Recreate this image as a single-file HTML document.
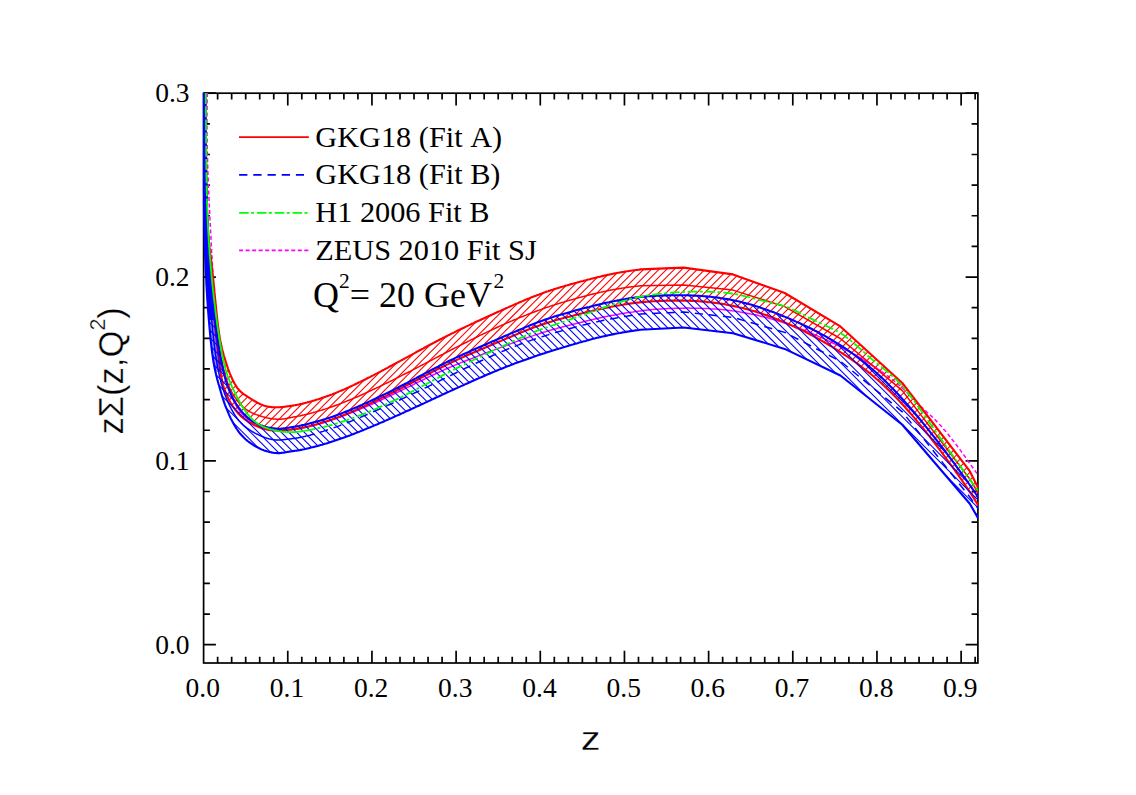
<!DOCTYPE html>
<html><head><meta charset="utf-8"><title>zΣ(z,Q²)</title>
<style>html,body{margin:0;padding:0;background:#fff;}body{width:1136px;height:795px;overflow:hidden;font-family:"Liberation Serif",serif;}svg{display:block;}text{font-kerning:none;white-space:pre;}</style></head>
<body>
<svg width="1136" height="795" viewBox="0 0 1136 795">
<rect width="1136" height="795" fill="#fff"/>
<defs>
<clipPath id="fr"><rect x="202.4" y="92.2" width="775.6" height="571.8"/></clipPath>
<clipPath id="cr"><path d="M205.4,93.0 L205.4,95.2 L205.5,97.4 L205.5,99.6 L205.6,101.8 L205.6,104.1 L205.6,106.3 L205.6,108.6 L205.7,110.8 L205.7,113.1 L205.7,115.3 L205.8,117.6 L205.8,119.9 L205.8,122.1 L205.8,124.4 L205.9,126.7 L205.9,129.0 L205.9,131.2 L205.9,133.5 L205.9,135.8 L206.0,138.1 L206.0,140.4 L206.0,142.6 L206.0,144.9 L206.0,147.2 L206.1,149.4 L206.1,151.7 L206.1,153.9 L206.1,156.2 L206.1,158.4 L206.2,160.7 L206.2,162.9 L206.2,165.1 L206.2,167.3 L206.3,169.5 L206.3,171.7 L206.3,173.9 L206.3,176.0 L206.4,178.2 L206.4,180.3 L206.4,182.4 L206.5,184.6 L206.5,186.7 L206.5,188.7 L206.6,190.8 L206.6,192.9 L206.7,194.9 L206.7,196.9 L206.8,198.9 L206.8,200.9 L206.9,202.9 L206.9,204.8 L207.0,206.7 L207.0,208.6 L207.1,210.5 L207.2,212.4 L207.2,214.2 L207.3,216.0 L207.4,217.8 L207.5,219.6 L207.5,221.3 L207.6,223.0 L207.7,224.7 L207.8,226.4 L207.9,228.0 L208.0,229.6 L208.1,231.2 L208.2,232.7 L208.3,234.2 L208.4,235.7 L208.5,237.2 L208.7,238.6 L208.8,240.0 L208.9,241.3 L209.0,242.7 L209.2,244.0 L209.3,245.3 L209.5,246.6 L209.6,247.9 L209.8,249.1 L209.9,250.4 L210.1,251.7 L210.2,252.9 L210.4,254.2 L210.5,255.5 L210.7,256.8 L210.9,258.1 L211.0,259.5 L211.2,260.8 L211.4,262.2 L211.6,263.6 L211.7,265.1 L211.9,266.6 L212.1,268.1 L212.3,269.6 L212.4,271.3 L212.6,272.9 L212.8,274.6 L213.0,276.4 L213.2,278.1 L213.3,280.0 L213.5,281.8 L213.7,283.7 L213.9,285.6 L214.1,287.5 L214.3,289.4 L214.4,291.4 L214.6,293.3 L214.8,295.3 L215.0,297.3 L215.2,299.3 L215.4,301.2 L215.6,303.2 L215.8,305.2 L216.0,307.2 L216.2,309.1 L216.4,311.1 L216.6,313.0 L216.8,314.9 L217.0,316.8 L217.2,318.6 L217.4,320.5 L217.6,322.3 L217.8,324.0 L218.0,325.8 L218.3,327.4 L218.5,329.1 L218.7,330.7 L218.9,332.2 L219.1,333.7 L219.4,335.2 L219.6,336.6 L219.8,338.0 L220.1,339.4 L220.3,340.7 L220.6,342.0 L220.8,343.3 L221.1,344.5 L221.4,345.8 L221.7,347.0 L221.9,348.2 L222.2,349.4 L222.5,350.6 L222.9,351.8 L223.2,353.0 L223.5,354.3 L223.8,355.5 L224.2,356.7 L224.6,357.9 L224.9,359.2 L225.3,360.4 L225.7,361.7 L226.2,363.0 L226.6,364.3 L227.0,365.7 L227.5,367.0 L227.9,368.3 L228.4,369.7 L228.9,371.0 L229.4,372.3 L229.9,373.6 L230.5,374.9 L231.0,376.2 L231.6,377.5 L232.1,378.7 L232.7,380.0 L233.3,381.2 L233.9,382.3 L234.5,383.5 L235.2,384.5 L235.8,385.6 L236.5,386.6 L237.1,387.6 L237.8,388.5 L238.5,389.3 L239.2,390.1 L239.9,390.9 L240.7,391.6 L241.4,392.3 L242.2,392.9 L242.9,393.5 L243.7,394.1 L244.4,394.7 L245.2,395.2 L246.0,395.7 L246.8,396.2 L247.5,396.7 L248.3,397.2 L249.1,397.7 L249.9,398.1 L250.6,398.6 L251.4,399.1 L252.2,399.6 L253.0,400.1 L253.7,400.5 L254.5,401.0 L255.3,401.5 L256.1,401.9 L256.8,402.4 L257.6,402.8 L258.4,403.2 L259.3,403.7 L260.1,404.0 L260.9,404.4 L261.8,404.8 L262.6,405.1 L263.5,405.4 L264.4,405.7 L265.3,405.9 L266.2,406.2 L267.1,406.4 L268.1,406.6 L269.0,406.7 L269.9,406.9 L270.9,407.0 L271.8,407.1 L272.8,407.2 L273.7,407.2 L274.7,407.3 L275.6,407.3 L276.5,407.3 L277.5,407.3 L278.4,407.3 L279.3,407.2 L280.2,407.2 L281.1,407.1 L281.9,407.1 L282.8,407.0 L283.7,406.9 L284.5,406.8 L285.3,406.7 L286.1,406.5 L286.9,406.4 L287.7,406.3 L288.5,406.2 L289.2,406.1 L290.0,406.0 L290.7,405.9 L291.4,405.8 L292.1,405.7 L292.8,405.6 L293.5,405.5 L294.2,405.3 L294.9,405.2 L295.6,405.1 L296.4,405.0 L297.2,404.8 L298.0,404.7 L298.8,404.5 L299.7,404.3 L300.6,404.1 L301.6,403.9 L302.6,403.6 L303.7,403.4 L304.8,403.1 L305.9,402.8 L307.1,402.5 L308.3,402.1 L309.6,401.8 L310.8,401.4 L312.1,401.1 L313.5,400.7 L314.8,400.3 L316.2,399.8 L317.6,399.4 L319.0,399.0 L320.4,398.5 L321.8,398.0 L323.3,397.5 L324.7,397.0 L326.2,396.5 L327.6,396.0 L329.1,395.5 L330.6,394.9 L332.0,394.4 L333.5,393.8 L335.0,393.2 L336.4,392.6 L337.9,392.0 L339.3,391.4 L340.8,390.8 L342.2,390.2 L343.7,389.6 L345.2,388.9 L346.6,388.3 L348.1,387.6 L349.5,387.0 L351.0,386.3 L352.4,385.6 L353.9,384.9 L355.3,384.2 L356.8,383.5 L358.2,382.8 L359.7,382.1 L361.1,381.4 L362.6,380.7 L364.0,380.0 L365.5,379.3 L366.9,378.5 L368.3,377.8 L369.8,377.1 L371.2,376.3 L372.7,375.6 L374.1,374.9 L375.5,374.1 L377.0,373.4 L378.4,372.6 L379.8,371.9 L381.3,371.1 L382.7,370.3 L384.1,369.6 L385.6,368.8 L387.0,368.1 L388.4,367.3 L389.8,366.5 L391.3,365.8 L392.7,365.0 L394.1,364.2 L395.5,363.5 L396.9,362.7 L398.4,361.9 L399.8,361.2 L401.2,360.4 L402.6,359.7 L404.0,358.9 L405.4,358.1 L406.8,357.4 L408.2,356.6 L409.6,355.8 L411.0,355.1 L412.4,354.3 L413.7,353.6 L415.1,352.8 L416.5,352.0 L417.9,351.3 L419.3,350.5 L420.7,349.8 L422.1,349.0 L423.4,348.3 L424.8,347.5 L426.2,346.8 L427.6,346.0 L429.0,345.3 L430.5,344.5 L431.9,343.8 L433.3,343.0 L434.7,342.3 L436.2,341.5 L437.6,340.8 L439.0,340.0 L440.5,339.2 L442.0,338.5 L443.5,337.7 L445.0,337.0 L446.5,336.2 L448.0,335.4 L449.5,334.7 L451.0,333.9 L452.6,333.1 L454.2,332.4 L455.7,331.6 L457.3,330.8 L458.9,330.0 L460.5,329.3 L462.1,328.5 L463.8,327.7 L465.4,326.9 L467.0,326.1 L468.7,325.4 L470.3,324.6 L471.9,323.8 L473.6,323.1 L475.2,322.3 L476.9,321.5 L478.6,320.7 L480.2,320.0 L481.9,319.2 L483.5,318.5 L485.2,317.7 L486.8,316.9 L488.4,316.2 L490.1,315.5 L491.7,314.7 L493.3,314.0 L495.0,313.2 L496.6,312.5 L498.2,311.8 L499.8,311.1 L501.3,310.4 L502.9,309.7 L504.5,309.0 L506.0,308.3 L507.6,307.6 L509.1,306.9 L510.6,306.2 L512.1,305.6 L513.7,304.9 L515.1,304.3 L516.6,303.6 L518.1,303.0 L519.6,302.3 L521.0,301.7 L522.5,301.1 L523.9,300.5 L525.3,299.9 L526.7,299.3 L528.1,298.7 L529.5,298.2 L530.9,297.6 L532.3,297.1 L533.7,296.5 L535.0,296.0 L536.4,295.5 L537.7,294.9 L539.1,294.4 L540.4,293.9 L541.7,293.5 L543.0,293.0 L544.3,292.5 L545.6,292.1 L546.9,291.6 L548.2,291.2 L549.4,290.7 L550.7,290.3 L552.0,289.9 L553.3,289.5 L554.5,289.1 L555.8,288.7 L557.1,288.3 L558.3,287.9 L559.6,287.5 L560.9,287.1 L562.1,286.8 L563.4,286.4 L564.7,286.0 L566.0,285.6 L567.3,285.3 L568.6,284.9 L569.9,284.5 L571.2,284.1 L572.5,283.8 L573.9,283.4 L575.2,283.0 L576.5,282.7 L577.9,282.3 L579.2,281.9 L580.5,281.6 L581.9,281.2 L583.2,280.9 L584.5,280.5 L585.9,280.2 L587.2,279.8 L588.5,279.5 L589.8,279.2 L591.1,278.8 L592.4,278.5 L593.7,278.2 L594.9,277.9 L596.2,277.6 L597.4,277.3 L598.6,277.0 L599.8,276.7 L601.0,276.4 L602.1,276.1 L603.2,275.9 L604.4,275.6 L605.5,275.4 L606.6,275.1 L607.6,274.9 L608.7,274.7 L609.8,274.4 L610.8,274.2 L611.8,274.0 L612.9,273.8 L613.9,273.6 L614.9,273.4 L615.9,273.2 L616.9,273.0 L617.9,272.8 L618.9,272.7 L619.9,272.5 L620.9,272.3 L621.9,272.1 L622.9,272.0 L623.9,271.8 L625.0,271.6 L626.0,271.5 L627.0,271.3 L628.1,271.2 L629.1,271.0 L630.2,270.8 L631.2,270.7 L632.3,270.5 L633.4,270.4 L634.5,270.2 L635.7,270.0 L636.8,269.9 L638.0,269.7 L639.2,269.6 L640.4,269.4 L683.6,267.6 L733.0,274.4 L784.7,293.0 L840.4,326.4 L902.3,383.0 L969.8,471.2 L978.1,487.8 L978.1,505.8 L978.0,505.5 L977.8,505.0 L977.5,504.4 L977.1,503.6 L976.5,502.6 L975.8,501.5 L975.1,500.2 L974.2,498.7 L973.2,497.2 L972.1,495.4 L970.9,493.6 L969.6,491.6 L968.2,489.6 L966.7,487.4 L965.1,485.1 L963.5,482.7 L961.8,480.2 L960.0,477.6 L958.1,475.0 L956.2,472.3 L954.2,469.5 L952.2,466.7 L950.1,463.8 L947.9,460.8 L945.7,457.8 L943.5,454.8 L941.2,451.7 L938.9,448.6 L936.5,445.5 L934.1,442.4 L931.7,439.3 L929.3,436.2 L926.8,433.1 L924.3,430.0 L921.8,426.9 L919.3,423.9 L916.8,420.8 L914.3,417.9 L911.8,414.9 L909.3,412.0 L906.8,409.2 L904.3,406.4 L901.8,403.7 L899.4,401.1 L897.0,398.5 L894.5,396.0 L892.1,393.6 L889.8,391.2 L887.4,388.9 L885.0,386.7 L882.7,384.5 L880.3,382.3 L878.0,380.3 L875.7,378.2 L873.4,376.3 L871.0,374.3 L868.7,372.4 L866.4,370.6 L864.1,368.8 L861.8,367.0 L859.5,365.3 L857.3,363.6 L855.0,362.0 L852.7,360.3 L850.4,358.7 L848.1,357.1 L845.8,355.6 L843.4,354.1 L841.1,352.6 L838.8,351.1 L836.5,349.6 L834.1,348.1 L831.8,346.7 L829.4,345.3 L827.1,343.9 L824.7,342.5 L822.3,341.1 L819.9,339.8 L817.6,338.5 L815.2,337.2 L812.8,335.9 L810.4,334.6 L808.0,333.4 L805.6,332.1 L803.2,330.9 L800.8,329.8 L798.4,328.6 L796.0,327.5 L793.6,326.3 L791.2,325.3 L788.8,324.2 L786.4,323.1 L784.0,322.1 L781.6,321.1 L779.2,320.1 L776.8,319.2 L774.4,318.2 L772.0,317.3 L769.6,316.4 L767.3,315.6 L764.9,314.7 L762.5,313.9 L760.1,313.1 L757.7,312.4 L755.3,311.6 L753.0,310.9 L750.6,310.2 L748.2,309.6 L745.8,308.9 L743.5,308.3 L741.1,307.7 L738.7,307.2 L736.3,306.6 L734.0,306.1 L731.6,305.6 L729.2,305.2 L726.9,304.7 L724.5,304.3 L722.1,303.9 L719.8,303.5 L717.4,303.2 L715.0,302.9 L712.7,302.6 L710.3,302.3 L707.9,302.1 L705.5,301.8 L703.2,301.6 L700.8,301.4 L698.4,301.3 L696.0,301.1 L693.6,301.0 L691.2,300.9 L688.8,300.8 L686.4,300.7 L684.0,300.7 L681.6,300.6 L679.2,300.6 L676.8,300.6 L674.4,300.6 L672.0,300.6 L669.6,300.7 L667.2,300.7 L664.8,300.8 L662.5,300.9 L660.2,301.0 L657.9,301.1 L655.7,301.2 L653.5,301.3 L651.4,301.4 L649.3,301.6 L647.2,301.7 L645.2,301.9 L643.3,302.1 L641.4,302.2 L639.6,302.4 L637.8,302.6 L636.1,302.8 L634.5,303.0 L632.9,303.2 L631.3,303.4 L629.8,303.6 L628.3,303.8 L626.9,304.1 L625.5,304.3 L624.1,304.5 L622.7,304.7 L621.3,305.0 L619.9,305.2 L618.5,305.5 L617.1,305.7 L615.6,306.0 L614.2,306.3 L612.8,306.5 L611.3,306.8 L609.8,307.1 L608.3,307.4 L606.8,307.7 L605.3,308.0 L603.7,308.4 L602.1,308.7 L600.4,309.1 L598.7,309.4 L597.0,309.8 L595.3,310.2 L593.5,310.6 L591.7,311.1 L589.8,311.5 L588.0,311.9 L586.1,312.4 L584.2,312.8 L582.4,313.3 L580.5,313.8 L578.6,314.3 L576.7,314.7 L574.8,315.2 L572.9,315.7 L571.0,316.2 L569.2,316.7 L567.3,317.1 L565.5,317.6 L563.7,318.1 L561.9,318.6 L560.1,319.1 L558.3,319.6 L556.5,320.1 L554.7,320.6 L552.9,321.1 L551.1,321.7 L549.2,322.2 L547.4,322.8 L545.6,323.4 L543.8,324.0 L541.9,324.6 L540.0,325.2 L538.2,325.9 L536.3,326.6 L534.3,327.3 L532.4,328.0 L530.4,328.8 L528.5,329.5 L526.5,330.3 L524.5,331.1 L522.4,331.9 L520.4,332.8 L518.3,333.6 L516.2,334.5 L514.1,335.4 L512.0,336.3 L509.8,337.2 L507.6,338.1 L505.4,339.0 L503.2,339.9 L501.0,340.9 L498.7,341.8 L496.5,342.8 L494.2,343.7 L491.8,344.7 L489.5,345.7 L487.2,346.7 L484.9,347.7 L482.5,348.7 L480.2,349.7 L477.8,350.7 L475.4,351.7 L473.1,352.7 L470.7,353.7 L468.4,354.7 L466.1,355.8 L463.8,356.8 L461.5,357.8 L459.2,358.9 L456.9,359.9 L454.7,361.0 L452.4,362.0 L450.2,363.0 L448.1,364.1 L445.9,365.1 L443.8,366.2 L441.7,367.2 L439.6,368.3 L437.5,369.3 L435.5,370.3 L433.5,371.4 L431.5,372.4 L429.5,373.5 L427.5,374.5 L425.5,375.6 L423.5,376.6 L421.5,377.6 L419.6,378.7 L417.6,379.7 L415.6,380.7 L413.7,381.8 L411.7,382.8 L409.7,383.8 L407.7,384.9 L405.7,385.9 L403.8,386.9 L401.8,388.0 L399.7,389.0 L397.7,390.0 L395.7,391.0 L393.7,392.0 L391.7,393.0 L389.6,394.1 L387.6,395.1 L385.6,396.1 L383.5,397.1 L381.5,398.0 L379.5,399.0 L377.4,400.0 L375.4,401.0 L373.3,402.0 L371.3,402.9 L369.2,403.9 L367.1,404.9 L365.1,405.8 L363.0,406.8 L361.0,407.7 L358.9,408.6 L356.9,409.6 L354.8,410.5 L352.7,411.4 L350.7,412.2 L348.6,413.1 L346.5,414.0 L344.5,414.8 L342.4,415.6 L340.3,416.4 L338.2,417.2 L336.2,418.0 L334.1,418.8 L332.0,419.5 L329.9,420.2 L327.8,420.9 L325.7,421.6 L323.6,422.2 L321.6,422.8 L319.5,423.4 L317.5,424.0 L315.6,424.5 L313.6,425.1 L311.7,425.6 L309.9,426.0 L308.2,426.4 L306.5,426.8 L304.8,427.2 L303.3,427.6 L301.8,427.9 L300.5,428.2 L299.2,428.4 L298.0,428.6 L296.9,428.8 L295.8,429.0 L294.8,429.1 L293.8,429.2 L292.8,429.3 L291.8,429.5 L290.8,429.6 L289.7,429.7 L288.5,429.8 L287.3,429.9 L286.0,430.0 L284.8,430.1 L283.4,430.2 L282.1,430.2 L280.8,430.3 L279.4,430.4 L278.1,430.4 L276.7,430.4 L275.4,430.4 L274.1,430.4 L272.9,430.3 L271.6,430.2 L270.4,430.1 L269.2,430.0 L268.0,429.8 L266.9,429.6 L265.7,429.3 L264.6,429.1 L263.4,428.7 L262.2,428.4 L261.1,428.0 L259.9,427.6 L258.8,427.1 L257.6,426.6 L256.5,426.1 L255.3,425.6 L254.1,425.0 L253.0,424.4 L251.9,423.8 L250.7,423.2 L249.6,422.5 L248.5,421.8 L247.4,421.1 L246.3,420.4 L245.2,419.6 L244.2,418.8 L243.1,418.0 L242.0,417.1 L241.0,416.2 L240.0,415.2 L238.9,414.2 L237.9,413.1 L236.9,411.9 L235.9,410.7 L234.9,409.4 L234.0,408.1 L233.0,406.7 L232.1,405.3 L231.2,403.8 L230.3,402.3 L229.5,400.8 L228.7,399.2 L227.9,397.6 L227.1,396.1 L226.4,394.4 L225.8,392.8 L225.1,391.2 L224.6,389.6 L224.0,388.0 L223.5,386.3 L223.0,384.7 L222.6,383.0 L222.2,381.3 L221.8,379.6 L221.5,377.8 L221.1,375.9 L220.8,374.1 L220.5,372.1 L220.2,370.1 L219.9,368.0 L219.6,365.9 L219.4,363.7 L219.1,361.3 L218.8,358.9 L218.5,356.4 L218.1,353.8 L217.8,351.1 L217.5,348.4 L217.2,345.5 L216.8,342.6 L216.5,339.6 L216.2,336.6 L215.8,333.4 L215.5,330.3 L215.1,327.1 L214.8,323.8 L214.4,320.5 L214.1,317.1 L213.7,313.7 L213.4,310.3 L213.0,306.9 L212.7,303.4 L212.4,299.9 L212.0,296.4 L211.7,292.9 L211.4,289.4 L211.1,285.9 L210.8,282.4 L210.5,278.9 L210.2,275.4 L210.0,272.0 L209.7,268.5 L209.4,265.1 L209.2,261.7 L209.0,258.3 L208.7,255.0 L208.5,251.6 L208.3,248.3 L208.1,245.0 L207.9,241.7 L207.8,238.4 L207.6,235.2 L207.4,232.0 L207.3,228.7 L207.1,225.5 L207.0,222.3 L206.9,219.1 L206.8,216.0 L206.6,212.8 L206.5,209.7 L206.4,206.5 L206.3,203.4 L206.3,200.3 L206.2,197.1 L206.1,194.0 L206.0,190.9 L206.0,187.8 L205.9,184.7 L205.8,181.6 L205.8,178.5 L205.7,175.4 L205.7,172.4 L205.6,169.3 L205.6,166.2 L205.6,163.1 L205.5,160.0 L205.5,156.9 L205.5,153.8 L205.4,150.7 L205.4,147.5 L205.4,144.4 L205.4,141.3 L205.3,138.2 L205.3,135.0 L205.3,131.9 L205.3,128.7 L205.3,125.5 L205.2,122.3 L205.2,119.1 L205.2,115.9 L205.2,112.7 L205.1,109.5 L205.1,106.2 L205.1,102.9 L205.1,99.6 L205.0,96.3 L205.0,93.0Z"/></clipPath>
<clipPath id="cb"><path d="M205.2,93.0 L205.2,96.3 L205.3,99.5 L205.3,102.8 L205.4,106.0 L205.4,109.2 L205.4,112.4 L205.5,115.6 L205.5,118.8 L205.5,122.0 L205.6,125.2 L205.6,128.3 L205.6,131.5 L205.6,134.6 L205.7,137.7 L205.7,140.8 L205.7,144.0 L205.8,147.1 L205.8,150.2 L205.8,153.3 L205.9,156.4 L205.9,159.5 L205.9,162.6 L206.0,165.7 L206.0,168.8 L206.1,171.9 L206.1,174.9 L206.2,178.0 L206.2,181.1 L206.3,184.2 L206.3,187.3 L206.4,190.4 L206.5,193.5 L206.6,196.6 L206.6,199.7 L206.7,202.9 L206.8,206.0 L206.9,209.1 L207.0,212.3 L207.1,215.4 L207.3,218.6 L207.4,221.7 L207.5,224.9 L207.7,228.1 L207.8,231.3 L208.0,234.5 L208.1,237.7 L208.3,241.0 L208.5,244.2 L208.7,247.5 L208.9,250.8 L209.1,254.1 L209.3,257.4 L209.5,260.7 L209.8,264.1 L210.0,267.4 L210.3,270.8 L210.5,274.2 L210.8,277.6 L211.1,281.1 L211.4,284.5 L211.7,288.0 L212.0,291.4 L212.4,294.8 L212.7,298.3 L213.0,301.7 L213.4,305.1 L213.8,308.5 L214.1,311.9 L214.5,315.2 L214.9,318.5 L215.3,321.8 L215.7,325.1 L216.1,328.3 L216.5,331.5 L216.9,334.6 L217.4,337.7 L217.8,340.7 L218.3,343.7 L218.7,346.6 L219.2,349.4 L219.6,352.2 L220.1,354.9 L220.5,357.5 L221.0,360.1 L221.5,362.6 L222.0,365.0 L222.5,367.3 L223.0,369.5 L223.5,371.7 L224.0,373.9 L224.5,375.9 L225.1,377.9 L225.6,379.9 L226.2,381.7 L226.8,383.6 L227.4,385.4 L228.0,387.1 L228.7,388.8 L229.3,390.5 L230.0,392.1 L230.7,393.8 L231.5,395.3 L232.2,396.9 L233.0,398.4 L233.8,399.9 L234.7,401.4 L235.5,402.8 L236.4,404.2 L237.3,405.6 L238.2,406.9 L239.1,408.2 L240.1,409.5 L241.0,410.7 L242.0,411.9 L243.0,413.0 L244.0,414.1 L245.0,415.1 L246.0,416.1 L247.0,417.0 L248.0,417.9 L249.1,418.8 L250.1,419.6 L251.2,420.3 L252.3,421.1 L253.4,421.8 L254.5,422.4 L255.7,423.0 L256.9,423.6 L258.0,424.2 L259.2,424.7 L260.5,425.2 L261.7,425.6 L262.9,426.0 L264.1,426.4 L265.4,426.8 L266.6,427.1 L267.9,427.4 L269.1,427.7 L270.3,427.9 L271.5,428.1 L272.7,428.3 L273.9,428.4 L275.1,428.5 L276.3,428.6 L277.4,428.7 L278.5,428.7 L279.6,428.7 L280.7,428.7 L281.7,428.6 L282.8,428.5 L283.8,428.4 L284.7,428.3 L285.7,428.1 L286.6,428.0 L287.6,427.8 L288.5,427.7 L289.4,427.5 L290.4,427.3 L291.3,427.2 L292.2,427.0 L293.2,426.9 L294.2,426.7 L295.2,426.6 L296.3,426.4 L297.5,426.2 L298.7,426.0 L300.0,425.7 L301.3,425.4 L302.8,425.1 L304.3,424.8 L305.9,424.4 L307.6,424.0 L309.3,423.6 L311.1,423.1 L313.0,422.6 L314.9,422.1 L316.8,421.6 L318.7,421.0 L320.7,420.4 L322.7,419.8 L324.8,419.2 L326.8,418.6 L328.9,417.9 L331.0,417.2 L333.0,416.5 L335.1,415.7 L337.1,415.0 L339.2,414.2 L341.3,413.4 L343.3,412.6 L345.4,411.8 L347.5,411.0 L349.5,410.2 L351.6,409.3 L353.6,408.4 L355.7,407.6 L357.8,406.7 L359.8,405.8 L361.9,404.9 L363.9,403.9 L366.0,403.0 L368.0,402.1 L370.1,401.1 L372.1,400.2 L374.2,399.2 L376.2,398.3 L378.2,397.3 L380.3,396.3 L382.3,395.3 L384.3,394.4 L386.4,393.4 L388.4,392.4 L390.4,391.4 L392.4,390.4 L394.4,389.4 L396.4,388.4 L398.4,387.3 L400.4,386.3 L402.4,385.3 L404.4,384.3 L406.4,383.3 L408.4,382.2 L410.3,381.2 L412.3,380.2 L414.2,379.1 L416.2,378.1 L418.2,377.0 L420.1,376.0 L422.1,375.0 L424.0,373.9 L426.0,372.9 L427.9,371.8 L429.9,370.8 L431.9,369.7 L433.9,368.7 L435.9,367.6 L438.0,366.6 L440.0,365.5 L442.1,364.5 L444.2,363.4 L446.3,362.4 L448.4,361.3 L450.6,360.2 L452.8,359.2 L455.0,358.1 L457.2,357.1 L459.5,356.0 L461.8,355.0 L464.0,353.9 L466.3,352.9 L468.7,351.9 L471.0,350.8 L473.3,349.8 L475.6,348.7 L478.0,347.7 L480.3,346.7 L482.6,345.7 L485.0,344.7 L487.3,343.7 L489.6,342.6 L491.9,341.6 L494.2,340.7 L496.5,339.7 L498.7,338.7 L501.0,337.7 L503.2,336.8 L505.4,335.8 L507.6,334.9 L509.7,333.9 L511.9,333.0 L514.0,332.1 L516.1,331.2 L518.1,330.3 L520.2,329.4 L522.2,328.6 L524.2,327.7 L526.2,326.9 L528.2,326.1 L530.2,325.3 L532.1,324.5 L534.1,323.7 L536.0,323.0 L537.8,322.3 L539.7,321.6 L541.6,320.9 L543.4,320.2 L545.2,319.6 L547.0,319.0 L548.8,318.4 L550.6,317.8 L552.4,317.2 L554.2,316.6 L556.0,316.1 L557.8,315.5 L559.6,315.0 L561.4,314.5 L563.1,313.9 L565.0,313.4 L566.8,312.9 L568.6,312.4 L570.4,311.9 L572.3,311.4 L574.1,310.8 L576.0,310.3 L577.9,309.8 L579.8,309.3 L581.7,308.8 L583.5,308.3 L585.4,307.8 L587.3,307.3 L589.1,306.9 L590.9,306.4 L592.7,305.9 L594.5,305.5 L596.3,305.1 L598.0,304.7 L599.7,304.3 L601.3,303.9 L602.9,303.5 L604.5,303.1 L606.1,302.8 L607.6,302.5 L609.1,302.2 L610.6,301.8 L612.0,301.5 L613.5,301.3 L614.9,301.0 L616.3,300.7 L617.7,300.4 L619.1,300.2 L620.5,299.9 L621.9,299.7 L623.3,299.4 L624.7,299.2 L626.1,298.9 L627.5,298.7 L628.9,298.4 L630.4,298.2 L631.9,298.0 L633.5,297.8 L635.1,297.6 L636.8,297.4 L638.5,297.2 L640.2,297.0 L642.1,296.8 L643.9,296.6 L645.9,296.5 L647.9,296.3 L650.0,296.2 L652.1,296.0 L654.2,295.9 L656.4,295.8 L658.7,295.7 L660.9,295.6 L663.2,295.5 L665.5,295.4 L667.9,295.4 L670.2,295.3 L672.6,295.3 L675.0,295.3 L677.4,295.2 L679.8,295.2 L682.2,295.3 L684.6,295.3 L687.0,295.3 L689.4,295.4 L691.8,295.5 L694.2,295.6 L696.5,295.7 L698.9,295.8 L701.3,296.0 L703.7,296.2 L706.0,296.3 L708.4,296.6 L710.7,296.8 L713.1,297.1 L715.5,297.3 L717.8,297.6 L720.2,298.0 L722.5,298.3 L724.9,298.7 L727.2,299.1 L729.6,299.5 L731.9,300.0 L734.3,300.5 L736.6,301.0 L739.0,301.5 L741.3,302.1 L743.7,302.7 L746.1,303.3 L748.4,304.0 L750.8,304.6 L753.1,305.3 L755.5,306.1 L757.9,306.8 L760.2,307.6 L762.6,308.4 L765.0,309.2 L767.4,310.0 L769.7,310.9 L772.1,311.7 L774.5,312.6 L776.9,313.6 L779.3,314.5 L781.6,315.5 L784.0,316.4 L786.4,317.4 L788.8,318.4 L791.2,319.4 L793.6,320.5 L796.0,321.6 L798.4,322.6 L800.8,323.7 L803.2,324.9 L805.6,326.0 L808.0,327.2 L810.4,328.3 L812.8,329.5 L815.2,330.8 L817.6,332.0 L819.9,333.3 L822.3,334.6 L824.7,335.9 L827.0,337.2 L829.4,338.6 L831.7,340.0 L834.1,341.4 L836.4,342.8 L838.7,344.2 L841.0,345.7 L843.3,347.2 L845.6,348.7 L847.9,350.3 L850.2,351.9 L852.5,353.5 L854.7,355.1 L857.0,356.8 L859.3,358.6 L861.5,360.3 L863.8,362.1 L866.1,363.9 L868.3,365.8 L870.6,367.8 L872.9,369.7 L875.2,371.7 L877.4,373.8 L879.7,375.9 L882.1,378.1 L884.4,380.3 L886.7,382.6 L889.0,384.9 L891.4,387.3 L893.8,389.7 L896.2,392.3 L898.6,394.8 L901.0,397.5 L903.4,400.2 L905.9,402.9 L908.4,405.8 L910.9,408.6 L913.4,411.5 L915.9,414.5 L918.4,417.5 L920.9,420.5 L923.4,423.6 L925.8,426.6 L928.3,429.7 L930.8,432.8 L933.2,435.8 L935.6,438.9 L938.0,441.9 L940.3,445.0 L942.6,448.0 L944.9,451.0 L947.1,453.9 L949.3,456.8 L951.4,459.6 L953.5,462.4 L955.5,465.1 L957.4,467.8 L959.3,470.4 L961.1,472.9 L962.9,475.3 L964.6,477.6 L966.2,479.8 L967.7,482.0 L969.1,484.0 L970.4,485.9 L971.7,487.7 L972.8,489.3 L973.8,490.8 L974.8,492.2 L975.6,493.5 L976.3,494.5 L976.9,495.5 L977.4,496.2 L977.8,496.8 L978.0,497.3 L978.1,497.5 L978.1,518.2 L969.8,503.7 L902.3,424.8 L840.4,375.5 L784.7,348.9 L733.0,333.2 L683.6,327.5 L640.4,329.8 L638.7,330.0 L637.1,330.2 L635.4,330.4 L633.8,330.7 L632.2,330.9 L630.6,331.1 L629.0,331.4 L627.5,331.6 L625.9,331.9 L624.4,332.2 L622.8,332.4 L621.3,332.7 L619.8,333.0 L618.4,333.2 L616.9,333.5 L615.4,333.8 L614.0,334.1 L612.5,334.4 L611.1,334.7 L609.7,335.0 L608.3,335.3 L606.9,335.6 L605.5,335.9 L604.1,336.2 L602.7,336.5 L601.4,336.8 L600.0,337.2 L598.7,337.5 L597.3,337.8 L596.0,338.1 L594.7,338.5 L593.4,338.8 L592.1,339.1 L590.8,339.5 L589.5,339.8 L588.2,340.2 L586.9,340.5 L585.6,340.9 L584.3,341.2 L583.0,341.6 L581.8,341.9 L580.5,342.3 L579.2,342.6 L578.0,343.0 L576.7,343.4 L575.5,343.7 L574.2,344.1 L573.0,344.5 L571.7,344.8 L570.5,345.2 L569.2,345.6 L568.0,345.9 L566.7,346.3 L565.5,346.7 L564.2,347.0 L563.0,347.4 L561.7,347.8 L560.5,348.2 L559.2,348.6 L558.0,348.9 L556.7,349.3 L555.4,349.7 L554.2,350.1 L552.9,350.5 L551.6,350.9 L550.4,351.3 L549.1,351.7 L547.8,352.1 L546.5,352.6 L545.2,353.0 L543.9,353.4 L542.6,353.8 L541.2,354.3 L539.9,354.7 L538.6,355.1 L537.2,355.6 L535.9,356.0 L534.5,356.5 L533.1,357.0 L531.8,357.4 L530.4,357.9 L529.0,358.4 L527.6,358.9 L526.2,359.4 L524.7,359.9 L523.3,360.4 L521.9,360.9 L520.4,361.5 L519.0,362.0 L517.5,362.5 L516.0,363.1 L514.5,363.6 L513.0,364.2 L511.5,364.8 L510.0,365.4 L508.5,365.9 L507.0,366.5 L505.4,367.1 L503.9,367.8 L502.3,368.4 L500.7,369.0 L499.2,369.6 L497.6,370.3 L496.0,371.0 L494.4,371.6 L492.8,372.3 L491.1,373.0 L489.5,373.7 L487.9,374.3 L486.2,375.0 L484.6,375.8 L483.0,376.5 L481.3,377.2 L479.7,377.9 L478.0,378.6 L476.4,379.3 L474.7,380.1 L473.1,380.8 L471.4,381.5 L469.8,382.2 L468.2,383.0 L466.5,383.7 L464.9,384.4 L463.3,385.2 L461.7,385.9 L460.1,386.6 L458.5,387.4 L456.9,388.1 L455.3,388.8 L453.7,389.5 L452.1,390.2 L450.6,390.9 L449.1,391.6 L447.5,392.3 L446.0,393.0 L444.5,393.7 L443.0,394.4 L441.6,395.1 L440.1,395.8 L438.6,396.5 L437.2,397.1 L435.7,397.8 L434.3,398.5 L432.9,399.1 L431.4,399.8 L430.0,400.5 L428.6,401.1 L427.2,401.8 L425.8,402.4 L424.4,403.1 L423.0,403.7 L421.6,404.4 L420.2,405.0 L418.8,405.7 L417.4,406.3 L416.0,406.9 L414.6,407.6 L413.2,408.2 L411.8,408.9 L410.4,409.5 L409.0,410.2 L407.6,410.8 L406.2,411.4 L404.8,412.1 L403.4,412.7 L401.9,413.4 L400.5,414.0 L399.1,414.7 L397.7,415.3 L396.2,415.9 L394.8,416.6 L393.4,417.2 L391.9,417.9 L390.5,418.5 L389.1,419.1 L387.6,419.8 L386.2,420.4 L384.7,421.0 L383.3,421.7 L381.9,422.3 L380.4,422.9 L379.0,423.5 L377.5,424.2 L376.1,424.8 L374.6,425.4 L373.2,426.0 L371.7,426.6 L370.3,427.2 L368.8,427.8 L367.3,428.4 L365.9,429.0 L364.4,429.6 L363.0,430.2 L361.5,430.8 L360.1,431.4 L358.6,432.0 L357.1,432.6 L355.7,433.1 L354.2,433.7 L352.8,434.3 L351.3,434.8 L349.9,435.4 L348.4,435.9 L346.9,436.5 L345.5,437.0 L344.0,437.5 L342.5,438.1 L341.1,438.6 L339.6,439.1 L338.2,439.6 L336.7,440.1 L335.2,440.6 L333.8,441.1 L332.3,441.5 L330.8,442.0 L329.4,442.5 L327.9,442.9 L326.4,443.4 L325.0,443.8 L323.5,444.2 L322.1,444.7 L320.7,445.1 L319.2,445.5 L317.8,445.9 L316.5,446.2 L315.1,446.6 L313.7,446.9 L312.4,447.3 L311.1,447.6 L309.8,447.9 L308.6,448.2 L307.4,448.5 L306.2,448.8 L305.1,449.0 L304.0,449.3 L302.9,449.5 L301.9,449.7 L300.9,449.9 L299.9,450.1 L299.0,450.2 L298.2,450.4 L297.4,450.5 L296.6,450.6 L295.8,450.7 L295.1,450.8 L294.4,450.9 L293.7,451.0 L293.0,451.1 L292.3,451.2 L291.6,451.3 L290.9,451.4 L290.2,451.5 L289.5,451.6 L288.8,451.8 L288.0,451.9 L287.2,452.0 L286.4,452.2 L285.6,452.3 L284.8,452.5 L284.0,452.6 L283.2,452.7 L282.3,452.8 L281.5,452.9 L280.6,453.0 L279.7,453.1 L278.8,453.1 L277.9,453.1 L277.0,453.1 L276.1,453.0 L275.2,453.0 L274.3,452.9 L273.3,452.7 L272.4,452.6 L271.5,452.4 L270.5,452.2 L269.6,452.0 L268.7,451.8 L267.8,451.5 L266.8,451.3 L265.9,451.0 L265.0,450.7 L264.1,450.4 L263.3,450.0 L262.4,449.7 L261.6,449.4 L260.7,449.0 L259.9,448.6 L259.1,448.2 L258.3,447.8 L257.5,447.4 L256.7,447.0 L255.9,446.6 L255.1,446.1 L254.3,445.7 L253.6,445.2 L252.8,444.7 L252.1,444.2 L251.3,443.7 L250.6,443.2 L249.8,442.7 L249.1,442.1 L248.3,441.5 L247.6,441.0 L246.9,440.4 L246.1,439.7 L245.4,439.1 L244.7,438.4 L244.0,437.8 L243.3,437.1 L242.6,436.3 L241.9,435.6 L241.2,434.8 L240.5,434.0 L239.8,433.2 L239.1,432.3 L238.4,431.4 L237.8,430.5 L237.1,429.5 L236.4,428.5 L235.8,427.5 L235.2,426.5 L234.5,425.4 L233.9,424.3 L233.3,423.2 L232.7,422.1 L232.1,421.0 L231.5,419.8 L230.9,418.7 L230.3,417.5 L229.8,416.3 L229.2,415.1 L228.7,413.9 L228.2,412.7 L227.7,411.5 L227.2,410.4 L226.7,409.2 L226.2,408.0 L225.8,406.8 L225.3,405.7 L224.9,404.6 L224.5,403.4 L224.1,402.3 L223.7,401.2 L223.4,400.1 L223.0,399.1 L222.7,398.0 L222.3,396.9 L222.0,395.9 L221.7,394.9 L221.4,393.8 L221.1,392.8 L220.8,391.8 L220.5,390.8 L220.2,389.8 L219.9,388.8 L219.6,387.8 L219.4,386.8 L219.1,385.8 L218.8,384.8 L218.5,383.9 L218.2,382.9 L218.0,381.9 L217.7,380.9 L217.4,379.9 L217.1,378.8 L216.9,377.8 L216.6,376.7 L216.3,375.7 L216.1,374.5 L215.8,373.4 L215.5,372.3 L215.3,371.1 L215.0,369.8 L214.7,368.6 L214.5,367.2 L214.2,365.9 L214.0,364.5 L213.7,363.0 L213.4,361.5 L213.2,360.0 L213.0,358.4 L212.7,356.7 L212.5,355.0 L212.2,353.2 L212.0,351.4 L211.7,349.5 L211.5,347.6 L211.3,345.6 L211.1,343.6 L210.8,341.6 L210.6,339.5 L210.4,337.4 L210.2,335.2 L210.0,333.0 L209.8,330.8 L209.6,328.5 L209.4,326.2 L209.2,323.9 L209.0,321.6 L208.8,319.2 L208.6,316.8 L208.4,314.4 L208.2,312.0 L208.0,309.6 L207.9,307.1 L207.7,304.7 L207.5,302.2 L207.3,299.7 L207.2,297.2 L207.0,294.7 L206.9,292.2 L206.7,289.7 L206.6,287.2 L206.4,284.7 L206.3,282.2 L206.2,279.7 L206.1,277.2 L205.9,274.8 L205.8,272.3 L205.7,269.8 L205.6,267.4 L205.5,265.0 L205.4,262.5 L205.3,260.1 L205.2,257.8 L205.1,255.4 L205.0,253.0 L204.9,250.7 L204.8,248.3 L204.8,246.0 L204.7,243.7 L204.6,241.4 L204.6,239.1 L204.5,236.8 L204.4,234.5 L204.4,232.2 L204.3,230.0 L204.3,227.7 L204.2,225.5 L204.2,223.2 L204.2,221.0 L204.1,218.8 L204.1,216.6 L204.1,214.3 L204.0,212.1 L204.0,209.9 L204.0,207.7 L203.9,205.6 L203.9,203.4 L203.9,201.2 L203.9,199.0 L203.9,196.8 L203.9,194.7 L203.8,192.5 L203.8,190.4 L203.8,188.2 L203.8,186.0 L203.8,183.9 L203.8,181.7 L203.8,179.6 L203.8,177.4 L203.8,175.3 L203.8,173.1 L203.8,171.0 L203.8,168.8 L203.8,166.7 L203.8,164.5 L203.8,162.4 L203.8,160.2 L203.8,158.0 L203.8,155.9 L203.8,153.7 L203.8,151.5 L203.8,149.4 L203.8,147.2 L203.8,145.0 L203.8,142.8 L203.8,140.6 L203.8,138.5 L203.8,136.3 L203.8,134.0 L203.8,131.8 L203.8,129.6 L203.8,127.4 L203.8,125.2 L203.8,122.9 L203.8,120.7 L203.8,118.4 L203.8,116.2 L203.8,113.9 L203.8,111.6 L203.7,109.3 L203.7,107.0 L203.7,104.7 L203.7,102.4 L203.7,100.1 L203.7,97.7 L203.6,95.4 L203.6,93.0Z"/></clipPath>
</defs>
<g stroke="#000" stroke-width="1.7" fill="none" stroke-linecap="butt">
<rect x="203.6" y="93.2" width="774.3" height="569.8"/>
<path d="M217.63,663.0v-6.3M217.63,93.2v6.3M231.66,663.0v-6.3M231.66,93.2v6.3M245.69,663.0v-6.3M245.69,93.2v6.3M259.71,663.0v-6.3M259.71,93.2v6.3M273.74,663.0v-6.3M273.74,93.2v6.3M287.77,663.0v-12.3M287.77,93.2v12.3M301.80,663.0v-6.3M301.80,93.2v6.3M315.83,663.0v-6.3M315.83,93.2v6.3M329.86,663.0v-6.3M329.86,93.2v6.3M343.88,663.0v-6.3M343.88,93.2v6.3M357.91,663.0v-6.3M357.91,93.2v6.3M371.94,663.0v-12.3M371.94,93.2v12.3M385.97,663.0v-6.3M385.97,93.2v6.3M400.00,663.0v-6.3M400.00,93.2v6.3M414.02,663.0v-6.3M414.02,93.2v6.3M428.05,663.0v-6.3M428.05,93.2v6.3M442.08,663.0v-6.3M442.08,93.2v6.3M456.11,663.0v-12.3M456.11,93.2v12.3M470.14,663.0v-6.3M470.14,93.2v6.3M484.17,663.0v-6.3M484.17,93.2v6.3M498.19,663.0v-6.3M498.19,93.2v6.3M512.22,663.0v-6.3M512.22,93.2v6.3M526.25,663.0v-6.3M526.25,93.2v6.3M540.28,663.0v-12.3M540.28,93.2v12.3M554.31,663.0v-6.3M554.31,93.2v6.3M568.34,663.0v-6.3M568.34,93.2v6.3M582.37,663.0v-6.3M582.37,93.2v6.3M596.39,663.0v-6.3M596.39,93.2v6.3M610.42,663.0v-6.3M610.42,93.2v6.3M624.45,663.0v-12.3M624.45,93.2v12.3M638.48,663.0v-6.3M638.48,93.2v6.3M652.51,663.0v-6.3M652.51,93.2v6.3M666.53,663.0v-6.3M666.53,93.2v6.3M680.56,663.0v-6.3M680.56,93.2v6.3M694.59,663.0v-6.3M694.59,93.2v6.3M708.62,663.0v-12.3M708.62,93.2v12.3M722.65,663.0v-6.3M722.65,93.2v6.3M736.68,663.0v-6.3M736.68,93.2v6.3M750.71,663.0v-6.3M750.71,93.2v6.3M764.73,663.0v-6.3M764.73,93.2v6.3M778.76,663.0v-6.3M778.76,93.2v6.3M792.79,663.0v-12.3M792.79,93.2v12.3M806.82,663.0v-6.3M806.82,93.2v6.3M820.85,663.0v-6.3M820.85,93.2v6.3M834.88,663.0v-6.3M834.88,93.2v6.3M848.90,663.0v-6.3M848.90,93.2v6.3M862.93,663.0v-6.3M862.93,93.2v6.3M876.96,663.0v-12.3M876.96,93.2v12.3M890.99,663.0v-6.3M890.99,93.2v6.3M905.02,663.0v-6.3M905.02,93.2v6.3M919.05,663.0v-6.3M919.05,93.2v6.3M933.07,663.0v-6.3M933.07,93.2v6.3M947.10,663.0v-6.3M947.10,93.2v6.3M961.13,663.0v-12.3M961.13,93.2v12.3M975.16,663.0v-6.3M975.16,93.2v6.3M203.6,644.70h12.3M977.9,644.70h-12.3M203.6,614.06h6.3M977.9,614.06h-6.3M203.6,583.42h6.3M977.9,583.42h-6.3M203.6,552.79h6.3M977.9,552.79h-6.3M203.6,522.15h6.3M977.9,522.15h-6.3M203.6,491.51h6.3M977.9,491.51h-6.3M203.6,460.87h12.3M977.9,460.87h-12.3M203.6,430.23h6.3M977.9,430.23h-6.3M203.6,399.59h6.3M977.9,399.59h-6.3M203.6,368.96h6.3M977.9,368.96h-6.3M203.6,338.32h6.3M977.9,338.32h-6.3M203.6,307.68h6.3M977.9,307.68h-6.3M203.6,277.04h12.3M977.9,277.04h-12.3M203.6,246.40h6.3M977.9,246.40h-6.3M203.6,215.76h6.3M977.9,215.76h-6.3M203.6,185.12h6.3M977.9,185.12h-6.3M203.6,154.49h6.3M977.9,154.49h-6.3M203.6,123.85h6.3M977.9,123.85h-6.3M203.6,93.21h12.3M977.9,93.21h-12.3"/>
</g>
<g clip-path="url(#fr)" fill="none" stroke-linejoin="round">
<path d="M207.4,93.0 L207.3,96.5 L207.2,100.1 L207.1,103.7 L207.1,107.3 L207.0,110.9 L207.0,114.5 L207.0,118.1 L207.0,121.8 L207.0,125.4 L207.0,129.1 L207.0,132.7 L207.1,136.4 L207.1,140.0 L207.2,143.7 L207.2,147.3 L207.3,150.9 L207.4,154.5 L207.5,158.1 L207.6,161.7 L207.7,165.2 L207.8,168.7 L207.9,172.3 L208.0,175.7 L208.2,179.2 L208.3,182.6 L208.4,186.0 L208.6,189.3 L208.7,192.6 L208.9,195.8 L209.0,199.1 L209.2,202.2 L209.3,205.3 L209.5,208.4 L209.6,211.4 L209.8,214.3 L209.9,217.2 L210.0,220.0 L210.2,222.8 L210.3,225.5 L210.5,228.1 L210.6,230.7 L210.7,233.2 L210.9,235.6 L211.0,237.9 L211.1,240.1 L211.2,242.3 L211.3,244.4 L211.4,246.5 L211.5,248.6 L211.6,250.6 L211.7,252.6 L211.9,254.7 L212.0,256.8 L212.1,258.9 L212.2,261.1 L212.3,263.3 L212.4,265.7 L212.5,268.1 L212.6,270.6 L212.8,273.3 L212.9,276.0 L213.0,278.9 L213.2,281.8 L213.3,284.8 L213.5,287.9" stroke="#f0f" stroke-width="1.5" stroke-dasharray="4,2.5"/>
<path d="M213.5,287.9 L213.7,291.0 L213.8,294.1 L214.0,297.3 L214.2,300.5 L214.4,303.6 L214.6,306.8 L214.8,309.9 L215.0,313.0 L215.3,316.1 L215.5,319.1 L215.7,322.0 L216.0,324.8 L216.3,327.6 L216.5,330.2 L216.8,332.7 L217.1,335.2 L217.4,337.5 L217.7,339.7 L218.0,341.9 L218.3,343.9 L218.7,346.0 L219.0,348.0 L219.4,349.9 L219.7,351.8 L220.1,353.8 L220.5,355.7 L221.0,357.6 L221.4,359.5 L221.8,361.5 L222.3,363.5 L222.8,365.5 L223.3,367.5 L223.8,369.5 L224.3,371.6 L224.9,373.6 L225.4,375.7 L226.0,377.7 L226.5,379.7 L227.1,381.7 L227.7,383.7 L228.3,385.6 L228.9,387.5 L229.5,389.4 L230.1,391.2 L230.7,393.0 L231.3,394.8 L232.0,396.5 L232.6,398.2 L233.3,399.8 L234.1,401.4 L234.8,403.0 L235.6,404.5 L236.5,406.0 L237.4,407.5 L238.3,408.9 L239.3,410.3 L240.3,411.6 L241.4,412.9 L242.5,414.2 L243.6,415.4 L244.8,416.5 L246.0,417.6 L247.2,418.7 L248.5,419.7 L249.7,420.6 L251.0,421.5 L252.3,422.3 L253.6,423.0 L254.9,423.7 L256.2,424.4 L257.5,425.0 L258.8,425.5 L260.1,426.0 L261.4,426.5 L262.7,426.9 L264.0,427.3 L265.2,427.7 L266.5,428.1 L267.8,428.4 L269.1,428.6 L270.4,428.9 L271.8,429.1 L273.3,429.3 L274.8,429.4 L276.4,429.6 L278.0,429.7 L279.7,429.7 L281.5,429.7 L283.4,429.7 L285.3,429.7 L287.2,429.6 L289.2,429.5 L291.2,429.4 L293.2,429.2 L295.2,429.0 L297.3,428.7 L299.3,428.5 L301.4,428.1 L303.4,427.8 L305.4,427.4 L307.4,427.0 L309.5,426.5 L311.5,426.1 L313.6,425.5 L315.6,425.0 L317.7,424.4 L319.8,423.8 L321.8,423.2 L324.0,422.5 L326.1,421.8 L328.3,421.1 L330.5,420.4 L332.7,419.6 L335.0,418.8 L337.2,418.0 L339.5,417.2 L341.9,416.3 L344.2,415.5 L346.6,414.6 L349.0,413.6 L351.3,412.7 L353.7,411.8 L356.1,410.8 L358.5,409.8 L360.9,408.8 L363.4,407.8 L365.8,406.8 L368.2,405.8 L370.5,404.8 L372.9,403.7 L375.3,402.7 L377.6,401.6 L380.0,400.5 L382.3,399.5 L384.6,398.4 L387.0,397.3 L389.3,396.2 L391.6,395.1 L393.9,394.0 L396.2,392.9 L398.4,391.8 L400.7,390.7 L403.0,389.6 L405.2,388.5 L407.5,387.4 L409.7,386.3 L412.0,385.2 L414.2,384.1 L416.5,383.0 L418.7,381.9 L420.9,380.8 L423.2,379.7 L425.4,378.6 L427.7,377.5 L430.0,376.4 L432.3,375.3 L434.6,374.2 L436.9,373.1 L439.3,372.0 L441.7,371.0 L444.1,369.9 L446.5,368.8 L449.0,367.7 L451.5,366.6 L454.0,365.6 L456.6,364.5 L459.2,363.4 L461.8,362.4 L464.5,361.3 L467.1,360.3 L469.8,359.2 L472.5,358.2 L475.2,357.1 L477.8,356.1 L480.5,355.1 L483.2,354.0 L485.9,353.0 L488.6,352.0 L491.2,351.0 L493.9,350.1 L496.5,349.1 L499.1,348.1 L501.6,347.1 L504.2,346.2 L506.7,345.3 L509.1,344.3 L511.6,343.4 L514.0,342.5 L516.4,341.6 L518.8,340.8 L521.2,339.9 L523.5,339.1 L525.8,338.2 L528.1,337.4 L530.3,336.6 L532.6,335.9 L534.8,335.1 L537.0,334.4 L539.2,333.7 L541.3,333.0 L543.5,332.3 L545.6,331.7 L547.7,331.0 L549.8,330.4 L551.9,329.8 L554.0,329.2 L556.0,328.7 L558.1,328.1 L560.1,327.6 L562.2,327.0 L564.2,326.5 L566.2,326.0 L568.2,325.5 L570.2,325.0 L572.2,324.4 L574.3,323.9 L576.3,323.4 L578.3,322.9 L580.3,322.4 L582.4,321.9 L584.4,321.4 L586.5,320.9 L588.6,320.4 L590.7,319.9 L592.8,319.5 L595.0,319.0 L597.2,318.5 L599.4,318.0 L601.6,317.5 L603.9,317.0 L606.2,316.6 L608.6,316.1 L610.9,315.6 L613.3,315.2 L615.7,314.7 L618.1,314.3 L620.6,313.8 L623.0,313.4 L625.5,313.0 L628.0,312.6 L630.5,312.2 L633.0,311.9 L635.5,311.5 L638.0,311.2 L640.5,310.9 L643.0,310.6 L645.5,310.3 L648.0,310.0 L650.5,309.8 L652.9,309.6 L655.4,309.3 L657.9,309.2 L660.5,309.0 L663.0,308.8 L665.5,308.7 L668.0,308.6 L670.5,308.5 L673.1,308.4 L675.7,308.3 L678.2,308.2 L680.8,308.2 L683.4,308.2 L686.0,308.1 L688.7,308.1 L691.3,308.2 L694.0,308.2 L696.7,308.2 L699.4,308.3 L702.1,308.4 L704.8,308.5 L707.5,308.6 L710.2,308.8 L712.9,308.9 L715.7,309.1 L718.4,309.3 L721.1,309.6 L723.9,309.8 L726.6,310.1 L729.3,310.4 L732.0,310.8 L734.8,311.1 L737.5,311.5 L740.2,312.0 L742.9,312.4 L745.6,312.9 L748.3,313.4 L751.0,314.0 L753.8,314.5 L756.5,315.1 L759.2,315.8 L761.9,316.4 L764.6,317.1 L767.4,317.8 L770.1,318.6 L772.8,319.4 L775.6,320.2 L778.3,321.0 L781.1,321.9 L783.9,322.8 L786.7,323.8 L789.5,324.7 L792.3,325.7 L795.1,326.8 L797.9,327.8 L800.7,328.9 L803.6,330.0 L806.4,331.1 L809.2,332.3 L812.0,333.5 L814.8,334.7 L817.6,335.9 L820.3,337.1 L823.1,338.4 L825.8,339.6 L828.5,340.9 L831.2,342.2 L833.9,343.5 L836.5,344.8 L839.1,346.1 L841.6,347.4 L844.2,348.8 L846.7,350.1 L849.1,351.5 L851.6,352.8 L853.9,354.2 L856.3,355.5 L858.6,356.9 L860.9,358.2 L863.1,359.6 L865.3,360.9 L867.5,362.3 L869.6,363.6 L871.7,365.0 L873.8,366.3 L875.8,367.6 L877.8,369.0 L879.7,370.3 L881.6,371.6" stroke="#f0f" stroke-width="1.5"/>
<path d="M881.6,371.6 L883.4,372.9 L885.2,374.2 L887.0,375.5 L888.7,376.7 L890.4,378.0 L892.0,379.3 L893.6,380.5 L895.2,381.8 L896.7,383.0 L898.1,384.3 L899.6,385.5 L900.9,386.8 L902.3,388.0 L903.6,389.2 L904.9,390.5 L906.1,391.7 L907.3,392.9 L908.5,394.1 L909.7,395.4 L910.8,396.6 L912.0,397.8 L913.2,399.0 L914.4,400.2 L915.6,401.5 L916.8,402.7 L918.0,403.9 L919.3,405.1 L920.5,406.3 L921.8,407.4 L923.1,408.6 L924.3,409.8 L925.6,410.9 L926.8,412.0 L928.0,413.1 L929.2,414.2 L930.4,415.3 L931.5,416.3 L932.6,417.3 L933.6,418.4 L934.7,419.4 L935.7,420.4 L936.7,421.4 L937.7,422.4 L938.7,423.4 L939.6,424.5 L940.6,425.5 L941.6,426.6 L942.6,427.7 L943.5,428.9 L944.5,430.1 L945.5,431.2 L946.5,432.4 L947.5,433.6 L948.5,434.8 L949.4,436.1 L950.4,437.3 L951.4,438.5 L952.3,439.7 L953.3,440.9 L954.2,442.1 L955.1,443.4 L956.1,444.6 L957.0,445.8 L958.0,447.1 L958.9,448.4 L959.9,449.6 L960.8,450.9 L961.8,452.3 L962.7,453.6 L963.7,454.9 L964.7,456.3 L965.6,457.6 L966.6,458.9 L967.5,460.2 L968.4,461.5 L969.3,462.8 L970.2,464.0 L971.0,465.2 L971.9,466.4 L972.7,467.5 L973.5,468.6 L974.3,469.7 L975.0,470.8 L975.8,471.9 L976.5,472.9 L977.3,474.0 L978.0,475.0 L978.7,476.1 L979.5,477.2 L980.2,478.3 L981.0,479.4 L981.8,480.6 L982.5,481.7 L983.3,482.9 L984.2,484.2 L985.0,485.5" stroke="#f0f" stroke-width="1.5" stroke-dasharray="4,2.5"/>
<g clip-path="url(#cr)" stroke="#f00" stroke-width="1.08">
<path d="M200.00,91.73L985.00,-693.27M200.00,99.40L985.00,-685.60M200.00,107.07L985.00,-677.93M200.00,114.74L985.00,-670.26M200.00,122.41L985.00,-662.59M200.00,130.08L985.00,-654.92M200.00,137.75L985.00,-647.25M200.00,145.42L985.00,-639.58M200.00,153.09L985.00,-631.91M200.00,160.76L985.00,-624.24M200.00,168.43L985.00,-616.57M200.00,176.10L985.00,-608.90M200.00,183.77L985.00,-601.23M200.00,191.44L985.00,-593.56M200.00,199.11L985.00,-585.89M200.00,206.78L985.00,-578.22M200.00,214.45L985.00,-570.55M200.00,222.12L985.00,-562.88M200.00,229.79L985.00,-555.21M200.00,237.46L985.00,-547.54M200.00,245.13L985.00,-539.87M200.00,252.80L985.00,-532.20M200.00,260.47L985.00,-524.53M200.00,268.14L985.00,-516.86M200.00,275.81L985.00,-509.19M200.00,283.48L985.00,-501.52M200.00,291.15L985.00,-493.85M200.00,298.82L985.00,-486.18M200.00,306.49L985.00,-478.51M200.00,314.16L985.00,-470.84M200.00,321.83L985.00,-463.17M200.00,329.50L985.00,-455.50M200.00,337.17L985.00,-447.83M200.00,344.84L985.00,-440.16M200.00,352.51L985.00,-432.49M200.00,360.18L985.00,-424.82M200.00,367.85L985.00,-417.15M200.00,375.52L985.00,-409.48M200.00,383.19L985.00,-401.81M200.00,390.86L985.00,-394.14M200.00,398.53L985.00,-386.47M200.00,406.20L985.00,-378.80M200.00,413.87L985.00,-371.13M200.00,421.54L985.00,-363.46M200.00,429.21L985.00,-355.79M200.00,436.88L985.00,-348.12M200.00,444.55L985.00,-340.45M200.00,452.22L985.00,-332.78M200.00,459.89L985.00,-325.11M200.00,467.56L985.00,-317.44M200.00,475.23L985.00,-309.77M200.00,482.90L985.00,-302.10M200.00,490.57L985.00,-294.43M200.00,498.24L985.00,-286.76M200.00,505.91L985.00,-279.09M200.00,513.58L985.00,-271.42M200.00,521.25L985.00,-263.75M200.00,528.92L985.00,-256.08M200.00,536.59L985.00,-248.41M200.00,544.26L985.00,-240.74M200.00,551.93L985.00,-233.07M200.00,559.60L985.00,-225.40M200.00,567.27L985.00,-217.73M200.00,574.94L985.00,-210.06M200.00,582.61L985.00,-202.39M200.00,590.28L985.00,-194.72M200.00,597.95L985.00,-187.05M200.00,605.62L985.00,-179.38M200.00,613.29L985.00,-171.71M200.00,620.96L985.00,-164.04M200.00,628.63L985.00,-156.37M200.00,636.30L985.00,-148.70M200.00,643.97L985.00,-141.03M200.00,651.64L985.00,-133.36M200.00,659.31L985.00,-125.69M200.00,666.98L985.00,-118.02M200.00,674.65L985.00,-110.35M200.00,682.32L985.00,-102.68M200.00,689.99L985.00,-95.01M200.00,697.66L985.00,-87.34M200.00,705.33L985.00,-79.67M200.00,713.00L985.00,-72.00M200.00,720.67L985.00,-64.33M200.00,728.34L985.00,-56.66M200.00,736.01L985.00,-48.99M200.00,743.68L985.00,-41.32M200.00,751.35L985.00,-33.65M200.00,759.02L985.00,-25.98M200.00,766.69L985.00,-18.31M200.00,774.36L985.00,-10.64M200.00,782.03L985.00,-2.97M200.00,789.70L985.00,4.70M200.00,797.37L985.00,12.37M200.00,805.04L985.00,20.04M200.00,812.71L985.00,27.71M200.00,820.38L985.00,35.38M200.00,828.05L985.00,43.05M200.00,835.72L985.00,50.72M200.00,843.39L985.00,58.39M200.00,851.06L985.00,66.06M200.00,858.73L985.00,73.73M200.00,866.40L985.00,81.40M200.00,874.07L985.00,89.07M200.00,881.74L985.00,96.74M200.00,889.41L985.00,104.41M200.00,897.08L985.00,112.08M200.00,904.75L985.00,119.75M200.00,912.42L985.00,127.42M200.00,920.09L985.00,135.09M200.00,927.76L985.00,142.76M200.00,935.43L985.00,150.43M200.00,943.10L985.00,158.10M200.00,950.77L985.00,165.77M200.00,958.44L985.00,173.44M200.00,966.11L985.00,181.11M200.00,973.78L985.00,188.78M200.00,981.45L985.00,196.45M200.00,989.12L985.00,204.12M200.00,996.79L985.00,211.79M200.00,1004.46L985.00,219.46M200.00,1012.13L985.00,227.13M200.00,1019.80L985.00,234.80M200.00,1027.47L985.00,242.47M200.00,1035.14L985.00,250.14M200.00,1042.81L985.00,257.81M200.00,1050.48L985.00,265.48M200.00,1058.15L985.00,273.15M200.00,1065.82L985.00,280.82M200.00,1073.49L985.00,288.49M200.00,1081.16L985.00,296.16M200.00,1088.83L985.00,303.83M200.00,1096.50L985.00,311.50M200.00,1104.17L985.00,319.17M200.00,1111.84L985.00,326.84M200.00,1119.51L985.00,334.51M200.00,1127.18L985.00,342.18M200.00,1134.85L985.00,349.85M200.00,1142.52L985.00,357.52M200.00,1150.19L985.00,365.19M200.00,1157.86L985.00,372.86M200.00,1165.53L985.00,380.53M200.00,1173.20L985.00,388.20M200.00,1180.87L985.00,395.87M200.00,1188.54L985.00,403.54M200.00,1196.21L985.00,411.21M200.00,1203.88L985.00,418.88M200.00,1211.55L985.00,426.55M200.00,1219.22L985.00,434.22M200.00,1226.89L985.00,441.89M200.00,1234.56L985.00,449.56M200.00,1242.23L985.00,457.23M200.00,1249.90L985.00,464.90M200.00,1257.57L985.00,472.57M200.00,1265.24L985.00,480.24M200.00,1272.91L985.00,487.91M200.00,1280.58L985.00,495.58M200.00,1288.25L985.00,503.25M200.00,1295.92L985.00,510.92M200.00,1303.59L985.00,518.59M200.00,1311.26L985.00,526.26M200.00,1318.93L985.00,533.93"/>
</g>
<path d="M205.4,93.0 L205.4,95.2 L205.5,97.4 L205.5,99.6 L205.6,101.8 L205.6,104.1 L205.6,106.3 L205.6,108.6 L205.7,110.8 L205.7,113.1 L205.7,115.3 L205.8,117.6 L205.8,119.9 L205.8,122.1 L205.8,124.4 L205.9,126.7 L205.9,129.0 L205.9,131.2 L205.9,133.5 L205.9,135.8 L206.0,138.1 L206.0,140.4 L206.0,142.6 L206.0,144.9 L206.0,147.2 L206.1,149.4 L206.1,151.7 L206.1,153.9 L206.1,156.2 L206.1,158.4 L206.2,160.7 L206.2,162.9 L206.2,165.1 L206.2,167.3 L206.3,169.5 L206.3,171.7 L206.3,173.9 L206.3,176.0 L206.4,178.2 L206.4,180.3 L206.4,182.4 L206.5,184.6 L206.5,186.7 L206.5,188.7 L206.6,190.8 L206.6,192.9 L206.7,194.9 L206.7,196.9 L206.8,198.9 L206.8,200.9 L206.9,202.9 L206.9,204.8 L207.0,206.7 L207.0,208.6 L207.1,210.5 L207.2,212.4 L207.2,214.2 L207.3,216.0 L207.4,217.8 L207.5,219.6 L207.5,221.3 L207.6,223.0 L207.7,224.7 L207.8,226.4 L207.9,228.0 L208.0,229.6 L208.1,231.2 L208.2,232.7 L208.3,234.2 L208.4,235.7 L208.5,237.2 L208.7,238.6 L208.8,240.0 L208.9,241.3 L209.0,242.7 L209.2,244.0 L209.3,245.3 L209.5,246.6 L209.6,247.9 L209.8,249.1 L209.9,250.4 L210.1,251.7 L210.2,252.9 L210.4,254.2 L210.5,255.5 L210.7,256.8 L210.9,258.1 L211.0,259.5 L211.2,260.8 L211.4,262.2 L211.6,263.6 L211.7,265.1 L211.9,266.6 L212.1,268.1 L212.3,269.6 L212.4,271.3 L212.6,272.9 L212.8,274.6 L213.0,276.4 L213.2,278.1 L213.3,280.0 L213.5,281.8 L213.7,283.7 L213.9,285.6 L214.1,287.5 L214.3,289.4 L214.4,291.4 L214.6,293.3 L214.8,295.3 L215.0,297.3 L215.2,299.3 L215.4,301.2 L215.6,303.2 L215.8,305.2 L216.0,307.2 L216.2,309.1 L216.4,311.1 L216.6,313.0 L216.8,314.9 L217.0,316.8 L217.2,318.6 L217.4,320.5 L217.6,322.3 L217.8,324.0 L218.0,325.8 L218.3,327.4 L218.5,329.1 L218.7,330.7 L218.9,332.2 L219.1,333.7 L219.4,335.2 L219.6,336.6 L219.8,338.0 L220.1,339.4 L220.3,340.7 L220.6,342.0 L220.8,343.3 L221.1,344.5 L221.4,345.8 L221.7,347.0 L221.9,348.2 L222.2,349.4 L222.5,350.6 L222.9,351.8 L223.2,353.0 L223.5,354.3 L223.8,355.5 L224.2,356.7 L224.6,357.9 L224.9,359.2 L225.3,360.4 L225.7,361.7 L226.2,363.0 L226.6,364.3 L227.0,365.7 L227.5,367.0 L227.9,368.3 L228.4,369.7 L228.9,371.0 L229.4,372.3 L229.9,373.6 L230.5,374.9 L231.0,376.2 L231.6,377.5 L232.1,378.7 L232.7,380.0 L233.3,381.2 L233.9,382.3 L234.5,383.5 L235.2,384.5 L235.8,385.6 L236.5,386.6 L237.1,387.6 L237.8,388.5 L238.5,389.3 L239.2,390.1 L239.9,390.9 L240.7,391.6 L241.4,392.3 L242.2,392.9 L242.9,393.5 L243.7,394.1 L244.4,394.7 L245.2,395.2 L246.0,395.7 L246.8,396.2 L247.5,396.7 L248.3,397.2 L249.1,397.7 L249.9,398.1 L250.6,398.6 L251.4,399.1 L252.2,399.6 L253.0,400.1 L253.7,400.5 L254.5,401.0 L255.3,401.5 L256.1,401.9 L256.8,402.4 L257.6,402.8 L258.4,403.2 L259.3,403.7 L260.1,404.0 L260.9,404.4 L261.8,404.8 L262.6,405.1 L263.5,405.4 L264.4,405.7 L265.3,405.9 L266.2,406.2 L267.1,406.4 L268.1,406.6 L269.0,406.7 L269.9,406.9 L270.9,407.0 L271.8,407.1 L272.8,407.2 L273.7,407.2 L274.7,407.3 L275.6,407.3 L276.5,407.3 L277.5,407.3 L278.4,407.3 L279.3,407.2 L280.2,407.2 L281.1,407.1 L281.9,407.1 L282.8,407.0 L283.7,406.9 L284.5,406.8 L285.3,406.7 L286.1,406.5 L286.9,406.4 L287.7,406.3 L288.5,406.2 L289.2,406.1 L290.0,406.0 L290.7,405.9 L291.4,405.8 L292.1,405.7 L292.8,405.6 L293.5,405.5 L294.2,405.3 L294.9,405.2 L295.6,405.1 L296.4,405.0 L297.2,404.8 L298.0,404.7 L298.8,404.5 L299.7,404.3 L300.6,404.1 L301.6,403.9 L302.6,403.6 L303.7,403.4 L304.8,403.1 L305.9,402.8 L307.1,402.5 L308.3,402.1 L309.6,401.8 L310.8,401.4 L312.1,401.1 L313.5,400.7 L314.8,400.3 L316.2,399.8 L317.6,399.4 L319.0,399.0 L320.4,398.5 L321.8,398.0 L323.3,397.5 L324.7,397.0 L326.2,396.5 L327.6,396.0 L329.1,395.5 L330.6,394.9 L332.0,394.4 L333.5,393.8 L335.0,393.2 L336.4,392.6 L337.9,392.0 L339.3,391.4 L340.8,390.8 L342.2,390.2 L343.7,389.6 L345.2,388.9 L346.6,388.3 L348.1,387.6 L349.5,387.0 L351.0,386.3 L352.4,385.6 L353.9,384.9 L355.3,384.2 L356.8,383.5 L358.2,382.8 L359.7,382.1 L361.1,381.4 L362.6,380.7 L364.0,380.0 L365.5,379.3 L366.9,378.5 L368.3,377.8 L369.8,377.1 L371.2,376.3 L372.7,375.6 L374.1,374.9 L375.5,374.1 L377.0,373.4 L378.4,372.6 L379.8,371.9 L381.3,371.1 L382.7,370.3 L384.1,369.6 L385.6,368.8 L387.0,368.1 L388.4,367.3 L389.8,366.5 L391.3,365.8 L392.7,365.0 L394.1,364.2 L395.5,363.5 L396.9,362.7 L398.4,361.9 L399.8,361.2 L401.2,360.4 L402.6,359.7 L404.0,358.9 L405.4,358.1 L406.8,357.4 L408.2,356.6 L409.6,355.8 L411.0,355.1 L412.4,354.3 L413.7,353.6 L415.1,352.8 L416.5,352.0 L417.9,351.3 L419.3,350.5 L420.7,349.8 L422.1,349.0 L423.4,348.3 L424.8,347.5 L426.2,346.8 L427.6,346.0 L429.0,345.3 L430.5,344.5 L431.9,343.8 L433.3,343.0 L434.7,342.3 L436.2,341.5 L437.6,340.8 L439.0,340.0 L440.5,339.2 L442.0,338.5 L443.5,337.7 L445.0,337.0 L446.5,336.2 L448.0,335.4 L449.5,334.7 L451.0,333.9 L452.6,333.1 L454.2,332.4 L455.7,331.6 L457.3,330.8 L458.9,330.0 L460.5,329.3 L462.1,328.5 L463.8,327.7 L465.4,326.9 L467.0,326.1 L468.7,325.4 L470.3,324.6 L471.9,323.8 L473.6,323.1 L475.2,322.3 L476.9,321.5 L478.6,320.7 L480.2,320.0 L481.9,319.2 L483.5,318.5 L485.2,317.7 L486.8,316.9 L488.4,316.2 L490.1,315.5 L491.7,314.7 L493.3,314.0 L495.0,313.2 L496.6,312.5 L498.2,311.8 L499.8,311.1 L501.3,310.4 L502.9,309.7 L504.5,309.0 L506.0,308.3 L507.6,307.6 L509.1,306.9 L510.6,306.2 L512.1,305.6 L513.7,304.9 L515.1,304.3 L516.6,303.6 L518.1,303.0 L519.6,302.3 L521.0,301.7 L522.5,301.1 L523.9,300.5 L525.3,299.9 L526.7,299.3 L528.1,298.7 L529.5,298.2 L530.9,297.6 L532.3,297.1 L533.7,296.5 L535.0,296.0 L536.4,295.5 L537.7,294.9 L539.1,294.4 L540.4,293.9 L541.7,293.5 L543.0,293.0 L544.3,292.5 L545.6,292.1 L546.9,291.6 L548.2,291.2 L549.4,290.7 L550.7,290.3 L552.0,289.9 L553.3,289.5 L554.5,289.1 L555.8,288.7 L557.1,288.3 L558.3,287.9 L559.6,287.5 L560.9,287.1 L562.1,286.8 L563.4,286.4 L564.7,286.0 L566.0,285.6 L567.3,285.3 L568.6,284.9 L569.9,284.5 L571.2,284.1 L572.5,283.8 L573.9,283.4 L575.2,283.0 L576.5,282.7 L577.9,282.3 L579.2,281.9 L580.5,281.6 L581.9,281.2 L583.2,280.9 L584.5,280.5 L585.9,280.2 L587.2,279.8 L588.5,279.5 L589.8,279.2 L591.1,278.8 L592.4,278.5 L593.7,278.2 L594.9,277.9 L596.2,277.6 L597.4,277.3 L598.6,277.0 L599.8,276.7 L601.0,276.4 L602.1,276.1 L603.2,275.9 L604.4,275.6 L605.5,275.4 L606.6,275.1 L607.6,274.9 L608.7,274.7 L609.8,274.4 L610.8,274.2 L611.8,274.0 L612.9,273.8 L613.9,273.6 L614.9,273.4 L615.9,273.2 L616.9,273.0 L617.9,272.8 L618.9,272.7 L619.9,272.5 L620.9,272.3 L621.9,272.1 L622.9,272.0 L623.9,271.8 L625.0,271.6 L626.0,271.5 L627.0,271.3 L628.1,271.2 L629.1,271.0 L630.2,270.8 L631.2,270.7 L632.3,270.5 L633.4,270.4 L634.5,270.2 L635.7,270.0 L636.8,269.9 L638.0,269.7 L639.2,269.6 L640.4,269.4 L683.6,267.6 L733.0,274.4 L784.7,293.0 L840.4,326.4 L902.3,383.0 L969.8,471.2 L978.1,487.8" stroke="#f00" stroke-width="2.1"/>
<path d="M205.0,93.0 L205.0,96.3 L205.1,99.6 L205.1,102.9 L205.1,106.2 L205.1,109.5 L205.2,112.7 L205.2,115.9 L205.2,119.1 L205.2,122.3 L205.3,125.5 L205.3,128.7 L205.3,131.9 L205.3,135.0 L205.3,138.2 L205.4,141.3 L205.4,144.4 L205.4,147.5 L205.4,150.7 L205.5,153.8 L205.5,156.9 L205.5,160.0 L205.6,163.1 L205.6,166.2 L205.6,169.3 L205.7,172.4 L205.7,175.4 L205.8,178.5 L205.8,181.6 L205.9,184.7 L206.0,187.8 L206.0,190.9 L206.1,194.0 L206.2,197.1 L206.3,200.3 L206.3,203.4 L206.4,206.5 L206.5,209.7 L206.6,212.8 L206.8,216.0 L206.9,219.1 L207.0,222.3 L207.1,225.5 L207.3,228.7 L207.4,232.0 L207.6,235.2 L207.8,238.4 L207.9,241.7 L208.1,245.0 L208.3,248.3 L208.5,251.6 L208.7,255.0 L209.0,258.3 L209.2,261.7 L209.4,265.1 L209.7,268.5 L210.0,272.0 L210.2,275.4 L210.5,278.9 L210.8,282.4 L211.1,285.9 L211.4,289.4 L211.7,292.9 L212.0,296.4 L212.4,299.9 L212.7,303.4 L213.0,306.9 L213.4,310.3 L213.7,313.7 L214.1,317.1 L214.4,320.5 L214.8,323.8 L215.1,327.1 L215.5,330.3 L215.8,333.4 L216.2,336.6 L216.5,339.6 L216.8,342.6 L217.2,345.5 L217.5,348.4 L217.8,351.1 L218.1,353.8 L218.5,356.4 L218.8,358.9 L219.1,361.3 L219.4,363.7 L219.6,365.9 L219.9,368.0 L220.2,370.1 L220.5,372.1 L220.8,374.1 L221.1,375.9 L221.5,377.8 L221.8,379.6 L222.2,381.3 L222.6,383.0 L223.0,384.7 L223.5,386.3 L224.0,388.0 L224.6,389.6 L225.1,391.2 L225.8,392.8 L226.4,394.4 L227.1,396.1 L227.9,397.6 L228.7,399.2 L229.5,400.8 L230.3,402.3 L231.2,403.8 L232.1,405.3 L233.0,406.7 L234.0,408.1 L234.9,409.4 L235.9,410.7 L236.9,411.9 L237.9,413.1 L238.9,414.2 L240.0,415.2 L241.0,416.2 L242.0,417.1 L243.1,418.0 L244.2,418.8 L245.2,419.6 L246.3,420.4 L247.4,421.1 L248.5,421.8 L249.6,422.5 L250.7,423.2 L251.9,423.8 L253.0,424.4 L254.1,425.0 L255.3,425.6 L256.5,426.1 L257.6,426.6 L258.8,427.1 L259.9,427.6 L261.1,428.0 L262.2,428.4 L263.4,428.7 L264.6,429.1 L265.7,429.3 L266.9,429.6 L268.0,429.8 L269.2,430.0 L270.4,430.1 L271.6,430.2 L272.9,430.3 L274.1,430.4 L275.4,430.4 L276.7,430.4 L278.1,430.4 L279.4,430.4 L280.8,430.3 L282.1,430.2 L283.4,430.2 L284.8,430.1 L286.0,430.0 L287.3,429.9 L288.5,429.8 L289.7,429.7 L290.8,429.6 L291.8,429.5 L292.8,429.3 L293.8,429.2 L294.8,429.1 L295.8,429.0 L296.9,428.8 L298.0,428.6 L299.2,428.4 L300.5,428.2 L301.8,427.9 L303.3,427.6 L304.8,427.2 L306.5,426.8 L308.2,426.4 L309.9,426.0 L311.7,425.6 L313.6,425.1 L315.6,424.5 L317.5,424.0 L319.5,423.4 L321.6,422.8 L323.6,422.2 L325.7,421.6 L327.8,420.9 L329.9,420.2 L332.0,419.5 L334.1,418.8 L336.2,418.0 L338.2,417.2 L340.3,416.4 L342.4,415.6 L344.5,414.8 L346.5,414.0 L348.6,413.1 L350.7,412.2 L352.7,411.4 L354.8,410.5 L356.9,409.6 L358.9,408.6 L361.0,407.7 L363.0,406.8 L365.1,405.8 L367.1,404.9 L369.2,403.9 L371.3,402.9 L373.3,402.0 L375.4,401.0 L377.4,400.0 L379.5,399.0 L381.5,398.0 L383.5,397.1 L385.6,396.1 L387.6,395.1 L389.6,394.1 L391.7,393.0 L393.7,392.0 L395.7,391.0 L397.7,390.0 L399.7,389.0 L401.8,388.0 L403.8,386.9 L405.7,385.9 L407.7,384.9 L409.7,383.8 L411.7,382.8 L413.7,381.8 L415.6,380.7 L417.6,379.7 L419.6,378.7 L421.5,377.6 L423.5,376.6 L425.5,375.6 L427.5,374.5 L429.5,373.5 L431.5,372.4 L433.5,371.4 L435.5,370.3 L437.5,369.3 L439.6,368.3 L441.7,367.2 L443.8,366.2 L445.9,365.1 L448.1,364.1 L450.2,363.0 L452.4,362.0 L454.7,361.0 L456.9,359.9 L459.2,358.9 L461.5,357.8 L463.8,356.8 L466.1,355.8 L468.4,354.7 L470.7,353.7 L473.1,352.7 L475.4,351.7 L477.8,350.7 L480.2,349.7 L482.5,348.7 L484.9,347.7 L487.2,346.7 L489.5,345.7 L491.8,344.7 L494.2,343.7 L496.5,342.8 L498.7,341.8 L501.0,340.9 L503.2,339.9 L505.4,339.0 L507.6,338.1 L509.8,337.2 L512.0,336.3 L514.1,335.4 L516.2,334.5 L518.3,333.6 L520.4,332.8 L522.4,331.9 L524.5,331.1 L526.5,330.3 L528.5,329.5 L530.4,328.8 L532.4,328.0 L534.3,327.3 L536.3,326.6 L538.2,325.9 L540.0,325.2 L541.9,324.6 L543.8,324.0 L545.6,323.4 L547.4,322.8 L549.2,322.2 L551.1,321.7 L552.9,321.1 L554.7,320.6 L556.5,320.1 L558.3,319.6 L560.1,319.1 L561.9,318.6 L563.7,318.1 L565.5,317.6 L567.3,317.1 L569.2,316.7 L571.0,316.2 L572.9,315.7 L574.8,315.2 L576.7,314.7 L578.6,314.3 L580.5,313.8 L582.4,313.3 L584.2,312.8 L586.1,312.4 L588.0,311.9 L589.8,311.5 L591.7,311.1 L593.5,310.6 L595.3,310.2 L597.0,309.8 L598.7,309.4 L600.4,309.1 L602.1,308.7 L603.7,308.4 L605.3,308.0 L606.8,307.7 L608.3,307.4 L609.8,307.1 L611.3,306.8 L612.8,306.5 L614.2,306.3 L615.6,306.0 L617.1,305.7 L618.5,305.5 L619.9,305.2 L621.3,305.0 L622.7,304.7 L624.1,304.5 L625.5,304.3 L626.9,304.1 L628.3,303.8 L629.8,303.6 L631.3,303.4 L632.9,303.2 L634.5,303.0 L636.1,302.8 L637.8,302.6 L639.6,302.4 L641.4,302.2 L643.3,302.1 L645.2,301.9 L647.2,301.7 L649.3,301.6 L651.4,301.4 L653.5,301.3 L655.7,301.2 L657.9,301.1 L660.2,301.0 L662.5,300.9 L664.8,300.8 L667.2,300.7 L669.6,300.7 L672.0,300.6 L674.4,300.6 L676.8,300.6 L679.2,300.6 L681.6,300.6 L684.0,300.7 L686.4,300.7 L688.8,300.8 L691.2,300.9 L693.6,301.0 L696.0,301.1 L698.4,301.3 L700.8,301.4 L703.2,301.6 L705.5,301.8 L707.9,302.1 L710.3,302.3 L712.7,302.6 L715.0,302.9 L717.4,303.2 L719.8,303.5 L722.1,303.9 L724.5,304.3 L726.9,304.7 L729.2,305.2 L731.6,305.6 L734.0,306.1 L736.3,306.6 L738.7,307.2 L741.1,307.7 L743.5,308.3 L745.8,308.9 L748.2,309.6 L750.6,310.2 L753.0,310.9 L755.3,311.6 L757.7,312.4 L760.1,313.1 L762.5,313.9 L764.9,314.7 L767.3,315.6 L769.6,316.4 L772.0,317.3 L774.4,318.2 L776.8,319.2 L779.2,320.1 L781.6,321.1 L784.0,322.1 L786.4,323.1 L788.8,324.2 L791.2,325.3 L793.6,326.3 L796.0,327.5 L798.4,328.6 L800.8,329.8 L803.2,330.9 L805.6,332.1 L808.0,333.4 L810.4,334.6 L812.8,335.9 L815.2,337.2 L817.6,338.5 L819.9,339.8 L822.3,341.1 L824.7,342.5 L827.1,343.9 L829.4,345.3 L831.8,346.7 L834.1,348.1 L836.5,349.6 L838.8,351.1 L841.1,352.6 L843.4,354.1 L845.8,355.6 L848.1,357.1 L850.4,358.7 L852.7,360.3 L855.0,362.0 L857.3,363.6 L859.5,365.3 L861.8,367.0 L864.1,368.8 L866.4,370.6 L868.7,372.4 L871.0,374.3 L873.4,376.3 L875.7,378.2 L878.0,380.3 L880.3,382.3 L882.7,384.5 L885.0,386.7 L887.4,388.9 L889.8,391.2 L892.1,393.6 L894.5,396.0 L897.0,398.5 L899.4,401.1 L901.8,403.7 L904.3,406.4 L906.8,409.2 L909.3,412.0 L911.8,414.9 L914.3,417.9 L916.8,420.8 L919.3,423.9 L921.8,426.9 L924.3,430.0 L926.8,433.1 L929.3,436.2 L931.7,439.3 L934.1,442.4 L936.5,445.5 L938.9,448.6 L941.2,451.7 L943.5,454.8 L945.7,457.8 L947.9,460.8 L950.1,463.8 L952.2,466.7 L954.2,469.5 L956.2,472.3 L958.1,475.0 L960.0,477.6 L961.8,480.2 L963.5,482.7 L965.1,485.1 L966.7,487.4 L968.2,489.6 L969.6,491.6 L970.9,493.6 L972.1,495.4 L973.2,497.2 L974.2,498.7 L975.1,500.2 L975.8,501.5 L976.5,502.6 L977.1,503.6 L977.5,504.4 L977.8,505.0 L978.0,505.5 L978.1,505.8" stroke="#f00" stroke-width="2.1"/>
<path d="M205.2,93.0 L205.2,95.3 L205.2,97.5 L205.2,99.8 L205.2,102.0 L205.2,104.2 L205.2,106.5 L205.2,108.7 L205.2,110.9 L205.2,113.1 L205.2,115.3 L205.2,117.5 L205.2,119.7 L205.3,121.8 L205.3,124.0 L205.3,126.2 L205.3,128.3 L205.3,130.5 L205.3,132.7 L205.3,134.8 L205.4,137.0 L205.4,139.1 L205.4,141.2 L205.4,143.4 L205.4,145.5 L205.5,147.6 L205.5,149.8 L205.5,151.9 L205.6,154.0 L205.6,156.1 L205.6,158.2 L205.7,160.3 L205.7,162.5 L205.7,164.6 L205.8,166.7 L205.8,168.8 L205.9,170.9 L205.9,173.0 L206.0,175.1 L206.0,177.2 L206.1,179.3 L206.1,181.5 L206.2,183.6 L206.3,185.7 L206.3,187.8 L206.4,189.9 L206.5,192.0 L206.5,194.1 L206.6,196.3 L206.7,198.4 L206.8,200.5 L206.8,202.7 L206.9,204.8 L207.0,206.9 L207.1,209.1 L207.2,211.2 L207.3,213.4 L207.4,215.5 L207.5,217.7 L207.6,219.9 L207.7,222.0 L207.8,224.2 L207.9,226.4 L208.0,228.6 L208.2,230.8 L208.3,233.0 L208.4,235.2 L208.5,237.4 L208.7,239.6 L208.8,241.8 L209.0,244.1 L209.1,246.3 L209.2,248.6 L209.4,250.8 L209.6,253.1 L209.7,255.4 L209.9,257.6 L210.0,259.9 L210.2,262.2 L210.4,264.5 L210.6,266.9 L210.7,269.2 L210.9,271.5 L211.1,273.9 L211.3,276.3 L211.5,278.6 L211.7,281.0 L211.9,283.4 L212.1,285.8 L212.3,288.1 L212.5,290.5 L212.8,292.9 L213.0,295.3 L213.2,297.7 L213.4,300.0 L213.7,302.4 L213.9,304.8 L214.2,307.1 L214.4,309.4 L214.6,311.8 L214.9,314.1 L215.2,316.4 L215.4,318.7 L215.7,320.9 L215.9,323.2 L216.2,325.4 L216.5,327.6 L216.8,329.8 L217.0,332.0 L217.3,334.1 L217.6,336.3 L217.9,338.3 L218.2,340.4 L218.5,342.4 L218.8,344.4 L219.1,346.4 L219.4,348.3 L219.7,350.3 L220.0,352.1 L220.3,353.9 L220.6,355.7 L220.9,357.5 L221.2,359.2 L221.6,360.9 L221.9,362.5 L222.2,364.1 L222.6,365.6 L222.9,367.1 L223.2,368.6 L223.6,370.0 L223.9,371.4 L224.3,372.8 L224.7,374.1 L225.0,375.4 L225.4,376.7 L225.8,377.9 L226.2,379.1 L226.6,380.3 L227.0,381.5 L227.4,382.6 L227.9,383.7 L228.3,384.8 L228.8,385.9 L229.2,387.0 L229.7,388.0 L230.2,389.1 L230.7,390.1 L231.2,391.1 L231.8,392.1 L232.3,393.1 L232.9,394.1 L233.5,395.0 L234.0,396.0 L234.6,396.9 L235.3,397.8 L235.9,398.7 L236.5,399.6 L237.2,400.5 L237.8,401.3 L238.5,402.1 L239.1,402.9 L239.8,403.7 L240.5,404.5 L241.2,405.2 L241.9,405.9 L242.6,406.6 L243.3,407.2 L244.0,407.8 L244.8,408.4 L245.5,409.0 L246.2,409.5 L247.0,410.0 L247.7,410.5 L248.5,411.0 L249.2,411.4 L250.0,411.8 L250.8,412.2 L251.5,412.6 L252.3,413.0 L253.1,413.3 L253.9,413.6 L254.7,414.0 L255.5,414.3 L256.3,414.6 L257.2,414.9 L258.0,415.2 L258.8,415.5 L259.7,415.8 L260.5,416.0 L261.3,416.3 L262.2,416.6 L263.0,416.8 L263.9,417.0 L264.7,417.3 L265.6,417.5 L266.4,417.7 L267.3,417.9 L268.1,418.1 L269.0,418.2 L269.8,418.4 L270.7,418.5 L271.5,418.7 L272.3,418.8 L273.1,418.9 L274.0,419.0 L274.8,419.1 L275.6,419.1 L276.3,419.2 L277.1,419.2 L277.9,419.2 L278.7,419.2 L279.4,419.2 L280.2,419.2 L280.9,419.2 L281.6,419.1 L282.3,419.1 L283.0,419.0 L283.7,418.9 L284.4,418.8 L285.0,418.7 L285.7,418.5 L286.3,418.4 L287.0,418.3 L287.6,418.2 L288.3,418.0 L288.9,417.9 L289.5,417.8 L290.2,417.7 L290.8,417.5 L291.4,417.4 L292.1,417.3 L292.7,417.2 L293.4,417.1 L294.1,417.0 L294.8,416.8 L295.5,416.7 L296.2,416.6 L297.0,416.4 L297.8,416.3 L298.6,416.1 L299.5,415.9 L300.4,415.8 L301.4,415.5 L302.4,415.3 L303.4,415.1 L304.5,414.8 L305.6,414.6 L306.7,414.3 L307.9,414.0 L309.0,413.7 L310.3,413.4 L311.5,413.0 L312.8,412.7 L314.0,412.3 L315.3,412.0 L316.7,411.6 L318.0,411.2 L319.4,410.8 L320.7,410.4 L322.1,410.0 L323.5,409.5 L324.9,409.1 L326.3,408.6 L327.7,408.2 L329.1,407.7 L330.5,407.2 L331.9,406.7 L333.4,406.2 L334.8,405.7 L336.2,405.2 L337.6,404.7 L339.0,404.2 L340.4,403.6 L341.8,403.1 L343.2,402.5 L344.7,402.0 L346.1,401.4 L347.5,400.8 L348.9,400.3 L350.3,399.7 L351.7,399.1 L353.1,398.5 L354.6,397.9 L356.0,397.3 L357.4,396.7 L358.8,396.1 L360.2,395.5 L361.6,394.8 L363.0,394.2 L364.4,393.6 L365.8,392.9 L367.2,392.3 L368.6,391.7 L370.0,391.0 L371.4,390.4 L372.8,389.7 L374.2,389.0 L375.6,388.4 L377.0,387.7 L378.4,387.1 L379.8,386.4 L381.2,385.7 L382.6,385.0 L384.0,384.4 L385.4,383.7 L386.8,383.0 L388.2,382.3 L389.6,381.6 L390.9,381.0 L392.3,380.3 L393.7,379.6 L395.1,378.9 L396.5,378.2 L397.8,377.5 L399.2,376.8 L400.6,376.1 L401.9,375.4 L403.3,374.7 L404.7,374.0 L406.0,373.3 L407.4,372.7 L408.7,372.0 L410.1,371.3 L411.4,370.6 L412.8,369.9 L414.1,369.2 L415.5,368.5 L416.8,367.8 L418.1,367.1 L419.5,366.4 L420.8,365.7 L422.2,365.0 L423.5,364.3 L424.9,363.6 L426.2,362.9 L427.6,362.2 L428.9,361.5 L430.3,360.8 L431.7,360.1 L433.0,359.3 L434.4,358.6 L435.8,357.9 L437.2,357.2 L438.6,356.5 L440.0,355.7 L441.4,355.0 L442.8,354.3 L444.2,353.5 L445.7,352.8 L447.1,352.0 L448.6,351.3 L450.1,350.5 L451.6,349.7 L453.0,349.0 L454.6,348.2 L456.1,347.4 L457.6,346.7 L459.1,345.9 L460.7,345.1 L462.2,344.3 L463.8,343.5 L465.3,342.8 L466.9,342.0 L468.5,341.2 L470.0,340.4 L471.6,339.6 L473.2,338.8 L474.8,338.0 L476.4,337.3 L478.0,336.5 L479.5,335.7 L481.1,334.9 L482.7,334.2 L484.3,333.4 L485.9,332.7 L487.5,331.9 L489.0,331.2 L490.6,330.4 L492.2,329.7 L493.7,329.0 L495.3,328.2 L496.8,327.5 L498.4,326.8 L499.9,326.1 L501.4,325.4 L502.9,324.8 L504.4,324.1 L505.9,323.4 L507.4,322.8 L508.9,322.1 L510.4,321.5 L511.9,320.9 L513.3,320.3 L514.7,319.7 L516.2,319.1 L517.6,318.5 L519.0,317.9 L520.4,317.3 L521.8,316.7 L523.2,316.2 L524.6,315.6 L526.0,315.1 L527.4,314.5 L528.7,314.0 L530.1,313.5 L531.4,313.0 L532.7,312.5 L534.1,312.0 L535.4,311.5 L536.7,311.0 L538.0,310.5 L539.3,310.1 L540.5,309.6 L541.8,309.2 L543.1,308.7 L544.3,308.3 L545.6,307.8 L546.8,307.4 L548.0,307.0 L549.3,306.6 L550.5,306.1 L551.7,305.7 L552.9,305.3 L554.2,304.9 L555.4,304.5 L556.6,304.2 L557.8,303.8 L559.1,303.4 L560.3,303.0 L561.5,302.6 L562.7,302.3 L564.0,301.9 L565.2,301.5 L566.4,301.2 L567.7,300.8 L568.9,300.4 L570.2,300.1 L571.5,299.7 L572.7,299.4 L574.0,299.0 L575.3,298.6 L576.6,298.3 L577.9,297.9 L579.2,297.6 L580.5,297.3 L581.7,296.9 L583.0,296.6 L584.3,296.2 L585.6,295.9 L586.9,295.6 L588.1,295.3 L589.4,294.9 L590.6,294.6 L591.9,294.3 L593.1,294.0 L594.3,293.7 L595.5,293.4 L596.7,293.2 L597.9,292.9 L599.1,292.6 L600.2,292.4 L601.3,292.1 L602.5,291.9 L603.5,291.6 L604.6,291.4 L605.7,291.2 L606.7,290.9 L607.8,290.7 L608.8,290.5 L609.8,290.3 L610.8,290.1 L611.8,289.9 L612.8,289.7 L613.8,289.5 L614.8,289.4 L615.7,289.2 L616.7,289.0 L617.7,288.9 L618.7,288.7 L619.6,288.5 L620.6,288.4 L621.6,288.2 L622.5,288.1 L623.5,287.9 L624.5,287.8 L625.5,287.6 L626.5,287.5 L627.5,287.4 L628.5,287.2 L629.5,287.1 L630.5,287.0 L631.5,286.8 L632.6,286.7 L633.7,286.6 L634.7,286.4 L635.8,286.3 L637.0,286.2 L638.1,286.0 L639.2,285.9 L640.4,285.8 L683.6,284.9 L733.0,290.1 L784.7,306.6 L840.4,338.5 L902.3,390.6 L969.8,479.0 L978.1,493.0" stroke="#f00" stroke-width="1.5"/>
<clipPath id="ctop"><rect x="190" y="80" width="60" height="240"/></clipPath>
<path d="M205.2,93.0 L205.2,96.3 L205.3,99.5 L205.3,102.8 L205.4,106.0 L205.4,109.2 L205.4,112.4 L205.5,115.6 L205.5,118.8 L205.5,122.0 L205.6,125.2 L205.6,128.3 L205.6,131.5 L205.6,134.6 L205.7,137.7 L205.7,140.8 L205.7,144.0 L205.8,147.1 L205.8,150.2 L205.8,153.3 L205.9,156.4 L205.9,159.5 L205.9,162.6 L206.0,165.7 L206.0,168.8 L206.1,171.9 L206.1,174.9 L206.2,178.0 L206.2,181.1 L206.3,184.2 L206.3,187.3 L206.4,190.4 L206.5,193.5 L206.6,196.6 L206.6,199.7 L206.7,202.9 L206.8,206.0 L206.9,209.1 L207.0,212.3 L207.1,215.4 L207.3,218.6 L207.4,221.7 L207.5,224.9 L207.7,228.1 L207.8,231.3 L208.0,234.5 L208.1,237.7 L208.3,241.0 L208.5,244.2 L208.7,247.5 L208.9,250.8 L209.1,254.1 L209.3,257.4 L209.5,260.7 L209.8,264.1 L210.0,267.4 L210.3,270.8 L210.5,274.2 L210.8,277.6 L211.1,281.1 L211.4,284.5 L211.7,288.0 L212.0,291.4 L212.4,294.8 L212.7,298.3 L213.0,301.7 L213.4,305.1 L213.8,308.5 L214.1,311.9 L214.5,315.2 L214.9,318.5 L215.3,321.8 L215.7,325.1 L216.1,328.3 L216.5,331.5 L216.9,334.6 L217.4,337.7 L217.8,340.7 L218.3,343.7 L218.7,346.6 L219.2,349.4 L219.6,352.2 L220.1,354.9 L220.5,357.5 L221.0,360.1 L221.5,362.6 L222.0,365.0 L222.5,367.3 L223.0,369.5 L223.5,371.7 L224.0,373.9 L224.5,375.9 L225.1,377.9 L225.6,379.9 L226.2,381.7 L226.8,383.6 L227.4,385.4 L228.0,387.1 L228.7,388.8 L229.3,390.5 L230.0,392.1 L230.7,393.8 L231.5,395.3 L232.2,396.9 L233.0,398.4 L233.8,399.9 L234.7,401.4 L235.5,402.8 L236.4,404.2 L237.3,405.6 L238.2,406.9 L239.1,408.2 L240.1,409.5 L241.0,410.7 L242.0,411.9 L243.0,413.0 L244.0,414.1 L245.0,415.1 L246.0,416.1 L247.0,417.0 L248.0,417.9 L249.1,418.8 L250.1,419.6 L251.2,420.3 L252.3,421.1 L253.4,421.8 L254.5,422.4 L255.7,423.0 L256.9,423.6 L258.0,424.2 L259.2,424.7 L260.5,425.2 L261.7,425.6 L262.9,426.0 L264.1,426.4 L265.4,426.8 L266.6,427.1 L267.9,427.4 L269.1,427.7 L270.3,427.9 L271.5,428.1 L272.7,428.3 L273.9,428.4 L275.1,428.5 L276.3,428.6 L277.4,428.7 L278.5,428.7 L279.6,428.7 L280.7,428.7 L281.7,428.6 L282.8,428.5 L283.8,428.4 L284.7,428.3 L285.7,428.1 L286.6,428.0 L287.6,427.8 L288.5,427.7 L289.4,427.5 L290.4,427.3 L291.3,427.2 L292.2,427.0 L293.2,426.9 L294.2,426.7 L295.2,426.6 L296.3,426.4 L297.5,426.2 L298.7,426.0 L300.0,425.7 L301.3,425.4 L302.8,425.1 L304.3,424.8 L305.9,424.4 L307.6,424.0 L309.3,423.6 L311.1,423.1 L313.0,422.6 L314.9,422.1 L316.8,421.6 L318.7,421.0 L320.7,420.4 L322.7,419.8 L324.8,419.2 L326.8,418.6 L328.9,417.9 L331.0,417.2 L333.0,416.5 L335.1,415.7 L337.1,415.0 L339.2,414.2 L341.3,413.4 L343.3,412.6 L345.4,411.8 L347.5,411.0 L349.5,410.2 L351.6,409.3 L353.6,408.4 L355.7,407.6 L357.8,406.7 L359.8,405.8 L361.9,404.9 L363.9,403.9 L366.0,403.0 L368.0,402.1 L370.1,401.1 L372.1,400.2 L374.2,399.2 L376.2,398.3 L378.2,397.3 L380.3,396.3 L382.3,395.3 L384.3,394.4 L386.4,393.4 L388.4,392.4 L390.4,391.4 L392.4,390.4 L394.4,389.4 L396.4,388.4 L398.4,387.3 L400.4,386.3 L402.4,385.3 L404.4,384.3 L406.4,383.3 L408.4,382.2 L410.3,381.2 L412.3,380.2 L414.2,379.1 L416.2,378.1 L418.2,377.0 L420.1,376.0 L422.1,375.0 L424.0,373.9 L426.0,372.9 L427.9,371.8 L429.9,370.8 L431.9,369.7 L433.9,368.7 L435.9,367.6 L438.0,366.6 L440.0,365.5 L442.1,364.5 L444.2,363.4 L446.3,362.4 L448.4,361.3 L450.6,360.2 L452.8,359.2 L455.0,358.1 L457.2,357.1 L459.5,356.0 L461.8,355.0 L464.0,353.9 L466.3,352.9 L468.7,351.9 L471.0,350.8 L473.3,349.8 L475.6,348.7 L478.0,347.7 L480.3,346.7 L482.6,345.7 L485.0,344.7 L487.3,343.7 L489.6,342.6 L491.9,341.6 L494.2,340.7 L496.5,339.7 L498.7,338.7 L501.0,337.7 L503.2,336.8 L505.4,335.8 L507.6,334.9 L509.7,333.9 L511.9,333.0 L514.0,332.1 L516.1,331.2 L518.1,330.3 L520.2,329.4 L522.2,328.6 L524.2,327.7 L526.2,326.9 L528.2,326.1 L530.2,325.3 L532.1,324.5 L534.1,323.7 L536.0,323.0 L537.8,322.3 L539.7,321.6 L541.6,320.9 L543.4,320.2 L545.2,319.6 L547.0,319.0 L548.8,318.4 L550.6,317.8 L552.4,317.2 L554.2,316.6 L556.0,316.1 L557.8,315.5 L559.6,315.0 L561.4,314.5 L563.1,313.9 L565.0,313.4 L566.8,312.9 L568.6,312.4 L570.4,311.9 L572.3,311.4 L574.1,310.8 L576.0,310.3 L577.9,309.8 L579.8,309.3 L581.7,308.8 L583.5,308.3 L585.4,307.8 L587.3,307.3 L589.1,306.9 L590.9,306.4 L592.7,305.9 L594.5,305.5 L596.3,305.1 L598.0,304.7 L599.7,304.3 L601.3,303.9 L602.9,303.5 L604.5,303.1 L606.1,302.8 L607.6,302.5 L609.1,302.2 L610.6,301.8 L612.0,301.5 L613.5,301.3 L614.9,301.0 L616.3,300.7 L617.7,300.4 L619.1,300.2 L620.5,299.9 L621.9,299.7 L623.3,299.4 L624.7,299.2 L626.1,298.9 L627.5,298.7 L628.9,298.4 L630.4,298.2 L631.9,298.0 L633.5,297.8 L635.1,297.6 L636.8,297.4 L638.5,297.2 L640.2,297.0 L642.1,296.8 L643.9,296.6 L645.9,296.5 L647.9,296.3 L650.0,296.2 L652.1,296.0 L654.2,295.9 L656.4,295.8 L658.7,295.7 L660.9,295.6 L663.2,295.5 L665.5,295.4 L667.9,295.4 L670.2,295.3 L672.6,295.3 L675.0,295.3 L677.4,295.2 L679.8,295.2 L682.2,295.3 L684.6,295.3 L687.0,295.3 L689.4,295.4 L691.8,295.5 L694.2,295.6 L696.5,295.7 L698.9,295.8 L701.3,296.0 L703.7,296.2 L706.0,296.3 L708.4,296.6 L710.7,296.8 L713.1,297.1 L715.5,297.3 L717.8,297.6 L720.2,298.0 L722.5,298.3 L724.9,298.7 L727.2,299.1 L729.6,299.5 L731.9,300.0 L734.3,300.5 L736.6,301.0 L739.0,301.5 L741.3,302.1 L743.7,302.7 L746.1,303.3 L748.4,304.0 L750.8,304.6 L753.1,305.3 L755.5,306.1 L757.9,306.8 L760.2,307.6 L762.6,308.4 L765.0,309.2 L767.4,310.0 L769.7,310.9 L772.1,311.7 L774.5,312.6 L776.9,313.6 L779.3,314.5 L781.6,315.5 L784.0,316.4 L786.4,317.4 L788.8,318.4 L791.2,319.4 L793.6,320.5 L796.0,321.6 L798.4,322.6 L800.8,323.7 L803.2,324.9 L805.6,326.0 L808.0,327.2 L810.4,328.3 L812.8,329.5 L815.2,330.8 L817.6,332.0 L819.9,333.3 L822.3,334.6 L824.7,335.9 L827.0,337.2 L829.4,338.6 L831.7,340.0 L834.1,341.4 L836.4,342.8 L838.7,344.2 L841.0,345.7 L843.3,347.2 L845.6,348.7 L847.9,350.3 L850.2,351.9 L852.5,353.5 L854.7,355.1 L857.0,356.8 L859.3,358.6 L861.5,360.3 L863.8,362.1 L866.1,363.9 L868.3,365.8 L870.6,367.8 L872.9,369.7 L875.2,371.7 L877.4,373.8 L879.7,375.9 L882.1,378.1 L884.4,380.3 L886.7,382.6 L889.0,384.9 L891.4,387.3 L893.8,389.7 L896.2,392.3 L898.6,394.8 L901.0,397.5 L903.4,400.2 L905.9,402.9 L908.4,405.8 L910.9,408.6 L913.4,411.5 L915.9,414.5 L918.4,417.5 L920.9,420.5 L923.4,423.6 L925.8,426.6 L928.3,429.7 L930.8,432.8 L933.2,435.8 L935.6,438.9 L938.0,441.9 L940.3,445.0 L942.6,448.0 L944.9,451.0 L947.1,453.9 L949.3,456.8 L951.4,459.6 L953.5,462.4 L955.5,465.1 L957.4,467.8 L959.3,470.4 L961.1,472.9 L962.9,475.3 L964.6,477.6 L966.2,479.8 L967.7,482.0 L969.1,484.0 L970.4,485.9 L971.7,487.7 L972.8,489.3 L973.8,490.8 L974.8,492.2 L975.6,493.5 L976.3,494.5 L976.9,495.5 L977.4,496.2 L977.8,496.8 L978.0,497.3 L978.1,497.5 L978.1,518.2 L969.8,503.7 L902.3,424.8 L840.4,375.5 L784.7,348.9 L733.0,333.2 L683.6,327.5 L640.4,329.8 L638.7,330.0 L637.1,330.2 L635.4,330.4 L633.8,330.7 L632.2,330.9 L630.6,331.1 L629.0,331.4 L627.5,331.6 L625.9,331.9 L624.4,332.2 L622.8,332.4 L621.3,332.7 L619.8,333.0 L618.4,333.2 L616.9,333.5 L615.4,333.8 L614.0,334.1 L612.5,334.4 L611.1,334.7 L609.7,335.0 L608.3,335.3 L606.9,335.6 L605.5,335.9 L604.1,336.2 L602.7,336.5 L601.4,336.8 L600.0,337.2 L598.7,337.5 L597.3,337.8 L596.0,338.1 L594.7,338.5 L593.4,338.8 L592.1,339.1 L590.8,339.5 L589.5,339.8 L588.2,340.2 L586.9,340.5 L585.6,340.9 L584.3,341.2 L583.0,341.6 L581.8,341.9 L580.5,342.3 L579.2,342.6 L578.0,343.0 L576.7,343.4 L575.5,343.7 L574.2,344.1 L573.0,344.5 L571.7,344.8 L570.5,345.2 L569.2,345.6 L568.0,345.9 L566.7,346.3 L565.5,346.7 L564.2,347.0 L563.0,347.4 L561.7,347.8 L560.5,348.2 L559.2,348.6 L558.0,348.9 L556.7,349.3 L555.4,349.7 L554.2,350.1 L552.9,350.5 L551.6,350.9 L550.4,351.3 L549.1,351.7 L547.8,352.1 L546.5,352.6 L545.2,353.0 L543.9,353.4 L542.6,353.8 L541.2,354.3 L539.9,354.7 L538.6,355.1 L537.2,355.6 L535.9,356.0 L534.5,356.5 L533.1,357.0 L531.8,357.4 L530.4,357.9 L529.0,358.4 L527.6,358.9 L526.2,359.4 L524.7,359.9 L523.3,360.4 L521.9,360.9 L520.4,361.5 L519.0,362.0 L517.5,362.5 L516.0,363.1 L514.5,363.6 L513.0,364.2 L511.5,364.8 L510.0,365.4 L508.5,365.9 L507.0,366.5 L505.4,367.1 L503.9,367.8 L502.3,368.4 L500.7,369.0 L499.2,369.6 L497.6,370.3 L496.0,371.0 L494.4,371.6 L492.8,372.3 L491.1,373.0 L489.5,373.7 L487.9,374.3 L486.2,375.0 L484.6,375.8 L483.0,376.5 L481.3,377.2 L479.7,377.9 L478.0,378.6 L476.4,379.3 L474.7,380.1 L473.1,380.8 L471.4,381.5 L469.8,382.2 L468.2,383.0 L466.5,383.7 L464.9,384.4 L463.3,385.2 L461.7,385.9 L460.1,386.6 L458.5,387.4 L456.9,388.1 L455.3,388.8 L453.7,389.5 L452.1,390.2 L450.6,390.9 L449.1,391.6 L447.5,392.3 L446.0,393.0 L444.5,393.7 L443.0,394.4 L441.6,395.1 L440.1,395.8 L438.6,396.5 L437.2,397.1 L435.7,397.8 L434.3,398.5 L432.9,399.1 L431.4,399.8 L430.0,400.5 L428.6,401.1 L427.2,401.8 L425.8,402.4 L424.4,403.1 L423.0,403.7 L421.6,404.4 L420.2,405.0 L418.8,405.7 L417.4,406.3 L416.0,406.9 L414.6,407.6 L413.2,408.2 L411.8,408.9 L410.4,409.5 L409.0,410.2 L407.6,410.8 L406.2,411.4 L404.8,412.1 L403.4,412.7 L401.9,413.4 L400.5,414.0 L399.1,414.7 L397.7,415.3 L396.2,415.9 L394.8,416.6 L393.4,417.2 L391.9,417.9 L390.5,418.5 L389.1,419.1 L387.6,419.8 L386.2,420.4 L384.7,421.0 L383.3,421.7 L381.9,422.3 L380.4,422.9 L379.0,423.5 L377.5,424.2 L376.1,424.8 L374.6,425.4 L373.2,426.0 L371.7,426.6 L370.3,427.2 L368.8,427.8 L367.3,428.4 L365.9,429.0 L364.4,429.6 L363.0,430.2 L361.5,430.8 L360.1,431.4 L358.6,432.0 L357.1,432.6 L355.7,433.1 L354.2,433.7 L352.8,434.3 L351.3,434.8 L349.9,435.4 L348.4,435.9 L346.9,436.5 L345.5,437.0 L344.0,437.5 L342.5,438.1 L341.1,438.6 L339.6,439.1 L338.2,439.6 L336.7,440.1 L335.2,440.6 L333.8,441.1 L332.3,441.5 L330.8,442.0 L329.4,442.5 L327.9,442.9 L326.4,443.4 L325.0,443.8 L323.5,444.2 L322.1,444.7 L320.7,445.1 L319.2,445.5 L317.8,445.9 L316.5,446.2 L315.1,446.6 L313.7,446.9 L312.4,447.3 L311.1,447.6 L309.8,447.9 L308.6,448.2 L307.4,448.5 L306.2,448.8 L305.1,449.0 L304.0,449.3 L302.9,449.5 L301.9,449.7 L300.9,449.9 L299.9,450.1 L299.0,450.2 L298.2,450.4 L297.4,450.5 L296.6,450.6 L295.8,450.7 L295.1,450.8 L294.4,450.9 L293.7,451.0 L293.0,451.1 L292.3,451.2 L291.6,451.3 L290.9,451.4 L290.2,451.5 L289.5,451.6 L288.8,451.8 L288.0,451.9 L287.2,452.0 L286.4,452.2 L285.6,452.3 L284.8,452.5 L284.0,452.6 L283.2,452.7 L282.3,452.8 L281.5,452.9 L280.6,453.0 L279.7,453.1 L278.8,453.1 L277.9,453.1 L277.0,453.1 L276.1,453.0 L275.2,453.0 L274.3,452.9 L273.3,452.7 L272.4,452.6 L271.5,452.4 L270.5,452.2 L269.6,452.0 L268.7,451.8 L267.8,451.5 L266.8,451.3 L265.9,451.0 L265.0,450.7 L264.1,450.4 L263.3,450.0 L262.4,449.7 L261.6,449.4 L260.7,449.0 L259.9,448.6 L259.1,448.2 L258.3,447.8 L257.5,447.4 L256.7,447.0 L255.9,446.6 L255.1,446.1 L254.3,445.7 L253.6,445.2 L252.8,444.7 L252.1,444.2 L251.3,443.7 L250.6,443.2 L249.8,442.7 L249.1,442.1 L248.3,441.5 L247.6,441.0 L246.9,440.4 L246.1,439.7 L245.4,439.1 L244.7,438.4 L244.0,437.8 L243.3,437.1 L242.6,436.3 L241.9,435.6 L241.2,434.8 L240.5,434.0 L239.8,433.2 L239.1,432.3 L238.4,431.4 L237.8,430.5 L237.1,429.5 L236.4,428.5 L235.8,427.5 L235.2,426.5 L234.5,425.4 L233.9,424.3 L233.3,423.2 L232.7,422.1 L232.1,421.0 L231.5,419.8 L230.9,418.7 L230.3,417.5 L229.8,416.3 L229.2,415.1 L228.7,413.9 L228.2,412.7 L227.7,411.5 L227.2,410.4 L226.7,409.2 L226.2,408.0 L225.8,406.8 L225.3,405.7 L224.9,404.6 L224.5,403.4 L224.1,402.3 L223.7,401.2 L223.4,400.1 L223.0,399.1 L222.7,398.0 L222.3,396.9 L222.0,395.9 L221.7,394.9 L221.4,393.8 L221.1,392.8 L220.8,391.8 L220.5,390.8 L220.2,389.8 L219.9,388.8 L219.6,387.8 L219.4,386.8 L219.1,385.8 L218.8,384.8 L218.5,383.9 L218.2,382.9 L218.0,381.9 L217.7,380.9 L217.4,379.9 L217.1,378.8 L216.9,377.8 L216.6,376.7 L216.3,375.7 L216.1,374.5 L215.8,373.4 L215.5,372.3 L215.3,371.1 L215.0,369.8 L214.7,368.6 L214.5,367.2 L214.2,365.9 L214.0,364.5 L213.7,363.0 L213.4,361.5 L213.2,360.0 L213.0,358.4 L212.7,356.7 L212.5,355.0 L212.2,353.2 L212.0,351.4 L211.7,349.5 L211.5,347.6 L211.3,345.6 L211.1,343.6 L210.8,341.6 L210.6,339.5 L210.4,337.4 L210.2,335.2 L210.0,333.0 L209.8,330.8 L209.6,328.5 L209.4,326.2 L209.2,323.9 L209.0,321.6 L208.8,319.2 L208.6,316.8 L208.4,314.4 L208.2,312.0 L208.0,309.6 L207.9,307.1 L207.7,304.7 L207.5,302.2 L207.3,299.7 L207.2,297.2 L207.0,294.7 L206.9,292.2 L206.7,289.7 L206.6,287.2 L206.4,284.7 L206.3,282.2 L206.2,279.7 L206.1,277.2 L205.9,274.8 L205.8,272.3 L205.7,269.8 L205.6,267.4 L205.5,265.0 L205.4,262.5 L205.3,260.1 L205.2,257.8 L205.1,255.4 L205.0,253.0 L204.9,250.7 L204.8,248.3 L204.8,246.0 L204.7,243.7 L204.6,241.4 L204.6,239.1 L204.5,236.8 L204.4,234.5 L204.4,232.2 L204.3,230.0 L204.3,227.7 L204.2,225.5 L204.2,223.2 L204.2,221.0 L204.1,218.8 L204.1,216.6 L204.1,214.3 L204.0,212.1 L204.0,209.9 L204.0,207.7 L203.9,205.6 L203.9,203.4 L203.9,201.2 L203.9,199.0 L203.9,196.8 L203.9,194.7 L203.8,192.5 L203.8,190.4 L203.8,188.2 L203.8,186.0 L203.8,183.9 L203.8,181.7 L203.8,179.6 L203.8,177.4 L203.8,175.3 L203.8,173.1 L203.8,171.0 L203.8,168.8 L203.8,166.7 L203.8,164.5 L203.8,162.4 L203.8,160.2 L203.8,158.0 L203.8,155.9 L203.8,153.7 L203.8,151.5 L203.8,149.4 L203.8,147.2 L203.8,145.0 L203.8,142.8 L203.8,140.6 L203.8,138.5 L203.8,136.3 L203.8,134.0 L203.8,131.8 L203.8,129.6 L203.8,127.4 L203.8,125.2 L203.8,122.9 L203.8,120.7 L203.8,118.4 L203.8,116.2 L203.8,113.9 L203.8,111.6 L203.7,109.3 L203.7,107.0 L203.7,104.7 L203.7,102.4 L203.7,100.1 L203.7,97.7 L203.6,95.4 L203.6,93.0Z" fill="#00f" stroke="none" clip-path="url(#ctop)"/>
<clipPath id="ctop2"><rect x="190" y="320" width="60" height="52"/></clipPath>
<path d="M205.2,93.0 L205.2,96.3 L205.3,99.5 L205.3,102.8 L205.4,106.0 L205.4,109.2 L205.4,112.4 L205.5,115.6 L205.5,118.8 L205.5,122.0 L205.6,125.2 L205.6,128.3 L205.6,131.5 L205.6,134.6 L205.7,137.7 L205.7,140.8 L205.7,144.0 L205.8,147.1 L205.8,150.2 L205.8,153.3 L205.9,156.4 L205.9,159.5 L205.9,162.6 L206.0,165.7 L206.0,168.8 L206.1,171.9 L206.1,174.9 L206.2,178.0 L206.2,181.1 L206.3,184.2 L206.3,187.3 L206.4,190.4 L206.5,193.5 L206.6,196.6 L206.6,199.7 L206.7,202.9 L206.8,206.0 L206.9,209.1 L207.0,212.3 L207.1,215.4 L207.3,218.6 L207.4,221.7 L207.5,224.9 L207.7,228.1 L207.8,231.3 L208.0,234.5 L208.1,237.7 L208.3,241.0 L208.5,244.2 L208.7,247.5 L208.9,250.8 L209.1,254.1 L209.3,257.4 L209.5,260.7 L209.8,264.1 L210.0,267.4 L210.3,270.8 L210.5,274.2 L210.8,277.6 L211.1,281.1 L211.4,284.5 L211.7,288.0 L212.0,291.4 L212.4,294.8 L212.7,298.3 L213.0,301.7 L213.4,305.1 L213.8,308.5 L214.1,311.9 L214.5,315.2 L214.9,318.5 L215.3,321.8 L215.7,325.1 L216.1,328.3 L216.5,331.5 L216.9,334.6 L217.4,337.7 L217.8,340.7 L218.3,343.7 L218.7,346.6 L219.2,349.4 L219.6,352.2 L220.1,354.9 L220.5,357.5 L221.0,360.1 L221.5,362.6 L222.0,365.0 L222.5,367.3 L223.0,369.5 L223.5,371.7 L224.0,373.9 L224.5,375.9 L225.1,377.9 L225.6,379.9 L226.2,381.7 L226.8,383.6 L227.4,385.4 L228.0,387.1 L228.7,388.8 L229.3,390.5 L230.0,392.1 L230.7,393.8 L231.5,395.3 L232.2,396.9 L233.0,398.4 L233.8,399.9 L234.7,401.4 L235.5,402.8 L236.4,404.2 L237.3,405.6 L238.2,406.9 L239.1,408.2 L240.1,409.5 L241.0,410.7 L242.0,411.9 L243.0,413.0 L244.0,414.1 L245.0,415.1 L246.0,416.1 L247.0,417.0 L248.0,417.9 L249.1,418.8 L250.1,419.6 L251.2,420.3 L252.3,421.1 L253.4,421.8 L254.5,422.4 L255.7,423.0 L256.9,423.6 L258.0,424.2 L259.2,424.7 L260.5,425.2 L261.7,425.6 L262.9,426.0 L264.1,426.4 L265.4,426.8 L266.6,427.1 L267.9,427.4 L269.1,427.7 L270.3,427.9 L271.5,428.1 L272.7,428.3 L273.9,428.4 L275.1,428.5 L276.3,428.6 L277.4,428.7 L278.5,428.7 L279.6,428.7 L280.7,428.7 L281.7,428.6 L282.8,428.5 L283.8,428.4 L284.7,428.3 L285.7,428.1 L286.6,428.0 L287.6,427.8 L288.5,427.7 L289.4,427.5 L290.4,427.3 L291.3,427.2 L292.2,427.0 L293.2,426.9 L294.2,426.7 L295.2,426.6 L296.3,426.4 L297.5,426.2 L298.7,426.0 L300.0,425.7 L301.3,425.4 L302.8,425.1 L304.3,424.8 L305.9,424.4 L307.6,424.0 L309.3,423.6 L311.1,423.1 L313.0,422.6 L314.9,422.1 L316.8,421.6 L318.7,421.0 L320.7,420.4 L322.7,419.8 L324.8,419.2 L326.8,418.6 L328.9,417.9 L331.0,417.2 L333.0,416.5 L335.1,415.7 L337.1,415.0 L339.2,414.2 L341.3,413.4 L343.3,412.6 L345.4,411.8 L347.5,411.0 L349.5,410.2 L351.6,409.3 L353.6,408.4 L355.7,407.6 L357.8,406.7 L359.8,405.8 L361.9,404.9 L363.9,403.9 L366.0,403.0 L368.0,402.1 L370.1,401.1 L372.1,400.2 L374.2,399.2 L376.2,398.3 L378.2,397.3 L380.3,396.3 L382.3,395.3 L384.3,394.4 L386.4,393.4 L388.4,392.4 L390.4,391.4 L392.4,390.4 L394.4,389.4 L396.4,388.4 L398.4,387.3 L400.4,386.3 L402.4,385.3 L404.4,384.3 L406.4,383.3 L408.4,382.2 L410.3,381.2 L412.3,380.2 L414.2,379.1 L416.2,378.1 L418.2,377.0 L420.1,376.0 L422.1,375.0 L424.0,373.9 L426.0,372.9 L427.9,371.8 L429.9,370.8 L431.9,369.7 L433.9,368.7 L435.9,367.6 L438.0,366.6 L440.0,365.5 L442.1,364.5 L444.2,363.4 L446.3,362.4 L448.4,361.3 L450.6,360.2 L452.8,359.2 L455.0,358.1 L457.2,357.1 L459.5,356.0 L461.8,355.0 L464.0,353.9 L466.3,352.9 L468.7,351.9 L471.0,350.8 L473.3,349.8 L475.6,348.7 L478.0,347.7 L480.3,346.7 L482.6,345.7 L485.0,344.7 L487.3,343.7 L489.6,342.6 L491.9,341.6 L494.2,340.7 L496.5,339.7 L498.7,338.7 L501.0,337.7 L503.2,336.8 L505.4,335.8 L507.6,334.9 L509.7,333.9 L511.9,333.0 L514.0,332.1 L516.1,331.2 L518.1,330.3 L520.2,329.4 L522.2,328.6 L524.2,327.7 L526.2,326.9 L528.2,326.1 L530.2,325.3 L532.1,324.5 L534.1,323.7 L536.0,323.0 L537.8,322.3 L539.7,321.6 L541.6,320.9 L543.4,320.2 L545.2,319.6 L547.0,319.0 L548.8,318.4 L550.6,317.8 L552.4,317.2 L554.2,316.6 L556.0,316.1 L557.8,315.5 L559.6,315.0 L561.4,314.5 L563.1,313.9 L565.0,313.4 L566.8,312.9 L568.6,312.4 L570.4,311.9 L572.3,311.4 L574.1,310.8 L576.0,310.3 L577.9,309.8 L579.8,309.3 L581.7,308.8 L583.5,308.3 L585.4,307.8 L587.3,307.3 L589.1,306.9 L590.9,306.4 L592.7,305.9 L594.5,305.5 L596.3,305.1 L598.0,304.7 L599.7,304.3 L601.3,303.9 L602.9,303.5 L604.5,303.1 L606.1,302.8 L607.6,302.5 L609.1,302.2 L610.6,301.8 L612.0,301.5 L613.5,301.3 L614.9,301.0 L616.3,300.7 L617.7,300.4 L619.1,300.2 L620.5,299.9 L621.9,299.7 L623.3,299.4 L624.7,299.2 L626.1,298.9 L627.5,298.7 L628.9,298.4 L630.4,298.2 L631.9,298.0 L633.5,297.8 L635.1,297.6 L636.8,297.4 L638.5,297.2 L640.2,297.0 L642.1,296.8 L643.9,296.6 L645.9,296.5 L647.9,296.3 L650.0,296.2 L652.1,296.0 L654.2,295.9 L656.4,295.8 L658.7,295.7 L660.9,295.6 L663.2,295.5 L665.5,295.4 L667.9,295.4 L670.2,295.3 L672.6,295.3 L675.0,295.3 L677.4,295.2 L679.8,295.2 L682.2,295.3 L684.6,295.3 L687.0,295.3 L689.4,295.4 L691.8,295.5 L694.2,295.6 L696.5,295.7 L698.9,295.8 L701.3,296.0 L703.7,296.2 L706.0,296.3 L708.4,296.6 L710.7,296.8 L713.1,297.1 L715.5,297.3 L717.8,297.6 L720.2,298.0 L722.5,298.3 L724.9,298.7 L727.2,299.1 L729.6,299.5 L731.9,300.0 L734.3,300.5 L736.6,301.0 L739.0,301.5 L741.3,302.1 L743.7,302.7 L746.1,303.3 L748.4,304.0 L750.8,304.6 L753.1,305.3 L755.5,306.1 L757.9,306.8 L760.2,307.6 L762.6,308.4 L765.0,309.2 L767.4,310.0 L769.7,310.9 L772.1,311.7 L774.5,312.6 L776.9,313.6 L779.3,314.5 L781.6,315.5 L784.0,316.4 L786.4,317.4 L788.8,318.4 L791.2,319.4 L793.6,320.5 L796.0,321.6 L798.4,322.6 L800.8,323.7 L803.2,324.9 L805.6,326.0 L808.0,327.2 L810.4,328.3 L812.8,329.5 L815.2,330.8 L817.6,332.0 L819.9,333.3 L822.3,334.6 L824.7,335.9 L827.0,337.2 L829.4,338.6 L831.7,340.0 L834.1,341.4 L836.4,342.8 L838.7,344.2 L841.0,345.7 L843.3,347.2 L845.6,348.7 L847.9,350.3 L850.2,351.9 L852.5,353.5 L854.7,355.1 L857.0,356.8 L859.3,358.6 L861.5,360.3 L863.8,362.1 L866.1,363.9 L868.3,365.8 L870.6,367.8 L872.9,369.7 L875.2,371.7 L877.4,373.8 L879.7,375.9 L882.1,378.1 L884.4,380.3 L886.7,382.6 L889.0,384.9 L891.4,387.3 L893.8,389.7 L896.2,392.3 L898.6,394.8 L901.0,397.5 L903.4,400.2 L905.9,402.9 L908.4,405.8 L910.9,408.6 L913.4,411.5 L915.9,414.5 L918.4,417.5 L920.9,420.5 L923.4,423.6 L925.8,426.6 L928.3,429.7 L930.8,432.8 L933.2,435.8 L935.6,438.9 L938.0,441.9 L940.3,445.0 L942.6,448.0 L944.9,451.0 L947.1,453.9 L949.3,456.8 L951.4,459.6 L953.5,462.4 L955.5,465.1 L957.4,467.8 L959.3,470.4 L961.1,472.9 L962.9,475.3 L964.6,477.6 L966.2,479.8 L967.7,482.0 L969.1,484.0 L970.4,485.9 L971.7,487.7 L972.8,489.3 L973.8,490.8 L974.8,492.2 L975.6,493.5 L976.3,494.5 L976.9,495.5 L977.4,496.2 L977.8,496.8 L978.0,497.3 L978.1,497.5 L978.1,518.2 L969.8,503.7 L902.3,424.8 L840.4,375.5 L784.7,348.9 L733.0,333.2 L683.6,327.5 L640.4,329.8 L638.7,330.0 L637.1,330.2 L635.4,330.4 L633.8,330.7 L632.2,330.9 L630.6,331.1 L629.0,331.4 L627.5,331.6 L625.9,331.9 L624.4,332.2 L622.8,332.4 L621.3,332.7 L619.8,333.0 L618.4,333.2 L616.9,333.5 L615.4,333.8 L614.0,334.1 L612.5,334.4 L611.1,334.7 L609.7,335.0 L608.3,335.3 L606.9,335.6 L605.5,335.9 L604.1,336.2 L602.7,336.5 L601.4,336.8 L600.0,337.2 L598.7,337.5 L597.3,337.8 L596.0,338.1 L594.7,338.5 L593.4,338.8 L592.1,339.1 L590.8,339.5 L589.5,339.8 L588.2,340.2 L586.9,340.5 L585.6,340.9 L584.3,341.2 L583.0,341.6 L581.8,341.9 L580.5,342.3 L579.2,342.6 L578.0,343.0 L576.7,343.4 L575.5,343.7 L574.2,344.1 L573.0,344.5 L571.7,344.8 L570.5,345.2 L569.2,345.6 L568.0,345.9 L566.7,346.3 L565.5,346.7 L564.2,347.0 L563.0,347.4 L561.7,347.8 L560.5,348.2 L559.2,348.6 L558.0,348.9 L556.7,349.3 L555.4,349.7 L554.2,350.1 L552.9,350.5 L551.6,350.9 L550.4,351.3 L549.1,351.7 L547.8,352.1 L546.5,352.6 L545.2,353.0 L543.9,353.4 L542.6,353.8 L541.2,354.3 L539.9,354.7 L538.6,355.1 L537.2,355.6 L535.9,356.0 L534.5,356.5 L533.1,357.0 L531.8,357.4 L530.4,357.9 L529.0,358.4 L527.6,358.9 L526.2,359.4 L524.7,359.9 L523.3,360.4 L521.9,360.9 L520.4,361.5 L519.0,362.0 L517.5,362.5 L516.0,363.1 L514.5,363.6 L513.0,364.2 L511.5,364.8 L510.0,365.4 L508.5,365.9 L507.0,366.5 L505.4,367.1 L503.9,367.8 L502.3,368.4 L500.7,369.0 L499.2,369.6 L497.6,370.3 L496.0,371.0 L494.4,371.6 L492.8,372.3 L491.1,373.0 L489.5,373.7 L487.9,374.3 L486.2,375.0 L484.6,375.8 L483.0,376.5 L481.3,377.2 L479.7,377.9 L478.0,378.6 L476.4,379.3 L474.7,380.1 L473.1,380.8 L471.4,381.5 L469.8,382.2 L468.2,383.0 L466.5,383.7 L464.9,384.4 L463.3,385.2 L461.7,385.9 L460.1,386.6 L458.5,387.4 L456.9,388.1 L455.3,388.8 L453.7,389.5 L452.1,390.2 L450.6,390.9 L449.1,391.6 L447.5,392.3 L446.0,393.0 L444.5,393.7 L443.0,394.4 L441.6,395.1 L440.1,395.8 L438.6,396.5 L437.2,397.1 L435.7,397.8 L434.3,398.5 L432.9,399.1 L431.4,399.8 L430.0,400.5 L428.6,401.1 L427.2,401.8 L425.8,402.4 L424.4,403.1 L423.0,403.7 L421.6,404.4 L420.2,405.0 L418.8,405.7 L417.4,406.3 L416.0,406.9 L414.6,407.6 L413.2,408.2 L411.8,408.9 L410.4,409.5 L409.0,410.2 L407.6,410.8 L406.2,411.4 L404.8,412.1 L403.4,412.7 L401.9,413.4 L400.5,414.0 L399.1,414.7 L397.7,415.3 L396.2,415.9 L394.8,416.6 L393.4,417.2 L391.9,417.9 L390.5,418.5 L389.1,419.1 L387.6,419.8 L386.2,420.4 L384.7,421.0 L383.3,421.7 L381.9,422.3 L380.4,422.9 L379.0,423.5 L377.5,424.2 L376.1,424.8 L374.6,425.4 L373.2,426.0 L371.7,426.6 L370.3,427.2 L368.8,427.8 L367.3,428.4 L365.9,429.0 L364.4,429.6 L363.0,430.2 L361.5,430.8 L360.1,431.4 L358.6,432.0 L357.1,432.6 L355.7,433.1 L354.2,433.7 L352.8,434.3 L351.3,434.8 L349.9,435.4 L348.4,435.9 L346.9,436.5 L345.5,437.0 L344.0,437.5 L342.5,438.1 L341.1,438.6 L339.6,439.1 L338.2,439.6 L336.7,440.1 L335.2,440.6 L333.8,441.1 L332.3,441.5 L330.8,442.0 L329.4,442.5 L327.9,442.9 L326.4,443.4 L325.0,443.8 L323.5,444.2 L322.1,444.7 L320.7,445.1 L319.2,445.5 L317.8,445.9 L316.5,446.2 L315.1,446.6 L313.7,446.9 L312.4,447.3 L311.1,447.6 L309.8,447.9 L308.6,448.2 L307.4,448.5 L306.2,448.8 L305.1,449.0 L304.0,449.3 L302.9,449.5 L301.9,449.7 L300.9,449.9 L299.9,450.1 L299.0,450.2 L298.2,450.4 L297.4,450.5 L296.6,450.6 L295.8,450.7 L295.1,450.8 L294.4,450.9 L293.7,451.0 L293.0,451.1 L292.3,451.2 L291.6,451.3 L290.9,451.4 L290.2,451.5 L289.5,451.6 L288.8,451.8 L288.0,451.9 L287.2,452.0 L286.4,452.2 L285.6,452.3 L284.8,452.5 L284.0,452.6 L283.2,452.7 L282.3,452.8 L281.5,452.9 L280.6,453.0 L279.7,453.1 L278.8,453.1 L277.9,453.1 L277.0,453.1 L276.1,453.0 L275.2,453.0 L274.3,452.9 L273.3,452.7 L272.4,452.6 L271.5,452.4 L270.5,452.2 L269.6,452.0 L268.7,451.8 L267.8,451.5 L266.8,451.3 L265.9,451.0 L265.0,450.7 L264.1,450.4 L263.3,450.0 L262.4,449.7 L261.6,449.4 L260.7,449.0 L259.9,448.6 L259.1,448.2 L258.3,447.8 L257.5,447.4 L256.7,447.0 L255.9,446.6 L255.1,446.1 L254.3,445.7 L253.6,445.2 L252.8,444.7 L252.1,444.2 L251.3,443.7 L250.6,443.2 L249.8,442.7 L249.1,442.1 L248.3,441.5 L247.6,441.0 L246.9,440.4 L246.1,439.7 L245.4,439.1 L244.7,438.4 L244.0,437.8 L243.3,437.1 L242.6,436.3 L241.9,435.6 L241.2,434.8 L240.5,434.0 L239.8,433.2 L239.1,432.3 L238.4,431.4 L237.8,430.5 L237.1,429.5 L236.4,428.5 L235.8,427.5 L235.2,426.5 L234.5,425.4 L233.9,424.3 L233.3,423.2 L232.7,422.1 L232.1,421.0 L231.5,419.8 L230.9,418.7 L230.3,417.5 L229.8,416.3 L229.2,415.1 L228.7,413.9 L228.2,412.7 L227.7,411.5 L227.2,410.4 L226.7,409.2 L226.2,408.0 L225.8,406.8 L225.3,405.7 L224.9,404.6 L224.5,403.4 L224.1,402.3 L223.7,401.2 L223.4,400.1 L223.0,399.1 L222.7,398.0 L222.3,396.9 L222.0,395.9 L221.7,394.9 L221.4,393.8 L221.1,392.8 L220.8,391.8 L220.5,390.8 L220.2,389.8 L219.9,388.8 L219.6,387.8 L219.4,386.8 L219.1,385.8 L218.8,384.8 L218.5,383.9 L218.2,382.9 L218.0,381.9 L217.7,380.9 L217.4,379.9 L217.1,378.8 L216.9,377.8 L216.6,376.7 L216.3,375.7 L216.1,374.5 L215.8,373.4 L215.5,372.3 L215.3,371.1 L215.0,369.8 L214.7,368.6 L214.5,367.2 L214.2,365.9 L214.0,364.5 L213.7,363.0 L213.4,361.5 L213.2,360.0 L213.0,358.4 L212.7,356.7 L212.5,355.0 L212.2,353.2 L212.0,351.4 L211.7,349.5 L211.5,347.6 L211.3,345.6 L211.1,343.6 L210.8,341.6 L210.6,339.5 L210.4,337.4 L210.2,335.2 L210.0,333.0 L209.8,330.8 L209.6,328.5 L209.4,326.2 L209.2,323.9 L209.0,321.6 L208.8,319.2 L208.6,316.8 L208.4,314.4 L208.2,312.0 L208.0,309.6 L207.9,307.1 L207.7,304.7 L207.5,302.2 L207.3,299.7 L207.2,297.2 L207.0,294.7 L206.9,292.2 L206.7,289.7 L206.6,287.2 L206.4,284.7 L206.3,282.2 L206.2,279.7 L206.1,277.2 L205.9,274.8 L205.8,272.3 L205.7,269.8 L205.6,267.4 L205.5,265.0 L205.4,262.5 L205.3,260.1 L205.2,257.8 L205.1,255.4 L205.0,253.0 L204.9,250.7 L204.8,248.3 L204.8,246.0 L204.7,243.7 L204.6,241.4 L204.6,239.1 L204.5,236.8 L204.4,234.5 L204.4,232.2 L204.3,230.0 L204.3,227.7 L204.2,225.5 L204.2,223.2 L204.2,221.0 L204.1,218.8 L204.1,216.6 L204.1,214.3 L204.0,212.1 L204.0,209.9 L204.0,207.7 L203.9,205.6 L203.9,203.4 L203.9,201.2 L203.9,199.0 L203.9,196.8 L203.9,194.7 L203.8,192.5 L203.8,190.4 L203.8,188.2 L203.8,186.0 L203.8,183.9 L203.8,181.7 L203.8,179.6 L203.8,177.4 L203.8,175.3 L203.8,173.1 L203.8,171.0 L203.8,168.8 L203.8,166.7 L203.8,164.5 L203.8,162.4 L203.8,160.2 L203.8,158.0 L203.8,155.9 L203.8,153.7 L203.8,151.5 L203.8,149.4 L203.8,147.2 L203.8,145.0 L203.8,142.8 L203.8,140.6 L203.8,138.5 L203.8,136.3 L203.8,134.0 L203.8,131.8 L203.8,129.6 L203.8,127.4 L203.8,125.2 L203.8,122.9 L203.8,120.7 L203.8,118.4 L203.8,116.2 L203.8,113.9 L203.8,111.6 L203.7,109.3 L203.7,107.0 L203.7,104.7 L203.7,102.4 L203.7,100.1 L203.7,97.7 L203.6,95.4 L203.6,93.0Z" fill="#00f" fill-opacity="0.45" stroke="none" clip-path="url(#ctop2)"/>
<g clip-path="url(#cb)" stroke="#00f" stroke-width="1.08">
<path d="M200.00,-799.45L985.00,-14.45M200.00,-791.78L985.00,-6.78M200.00,-784.11L985.00,0.89M200.00,-776.44L985.00,8.56M200.00,-768.77L985.00,16.23M200.00,-761.10L985.00,23.90M200.00,-753.43L985.00,31.57M200.00,-745.76L985.00,39.24M200.00,-738.09L985.00,46.91M200.00,-730.42L985.00,54.58M200.00,-722.75L985.00,62.25M200.00,-715.08L985.00,69.92M200.00,-707.41L985.00,77.59M200.00,-699.74L985.00,85.26M200.00,-692.07L985.00,92.93M200.00,-684.40L985.00,100.60M200.00,-676.73L985.00,108.27M200.00,-669.06L985.00,115.94M200.00,-661.39L985.00,123.61M200.00,-653.72L985.00,131.28M200.00,-646.05L985.00,138.95M200.00,-638.38L985.00,146.62M200.00,-630.71L985.00,154.29M200.00,-623.04L985.00,161.96M200.00,-615.37L985.00,169.63M200.00,-607.70L985.00,177.30M200.00,-600.03L985.00,184.97M200.00,-592.36L985.00,192.64M200.00,-584.69L985.00,200.31M200.00,-577.02L985.00,207.98M200.00,-569.35L985.00,215.65M200.00,-561.68L985.00,223.32M200.00,-554.01L985.00,230.99M200.00,-546.34L985.00,238.66M200.00,-538.67L985.00,246.33M200.00,-531.00L985.00,254.00M200.00,-523.33L985.00,261.67M200.00,-515.66L985.00,269.34M200.00,-507.99L985.00,277.01M200.00,-500.32L985.00,284.68M200.00,-492.65L985.00,292.35M200.00,-484.98L985.00,300.02M200.00,-477.31L985.00,307.69M200.00,-469.64L985.00,315.36M200.00,-461.97L985.00,323.03M200.00,-454.30L985.00,330.70M200.00,-446.63L985.00,338.37M200.00,-438.96L985.00,346.04M200.00,-431.29L985.00,353.71M200.00,-423.62L985.00,361.38M200.00,-415.95L985.00,369.05M200.00,-408.28L985.00,376.72M200.00,-400.61L985.00,384.39M200.00,-392.94L985.00,392.06M200.00,-385.27L985.00,399.73M200.00,-377.60L985.00,407.40M200.00,-369.93L985.00,415.07M200.00,-362.26L985.00,422.74M200.00,-354.59L985.00,430.41M200.00,-346.92L985.00,438.08M200.00,-339.25L985.00,445.75M200.00,-331.58L985.00,453.42M200.00,-323.91L985.00,461.09M200.00,-316.24L985.00,468.76M200.00,-308.57L985.00,476.43M200.00,-300.90L985.00,484.10M200.00,-293.23L985.00,491.77M200.00,-285.56L985.00,499.44M200.00,-277.89L985.00,507.11M200.00,-270.22L985.00,514.78M200.00,-262.55L985.00,522.45M200.00,-254.88L985.00,530.12M200.00,-247.21L985.00,537.79M200.00,-239.54L985.00,545.46M200.00,-231.87L985.00,553.13M200.00,-224.20L985.00,560.80M200.00,-216.53L985.00,568.47M200.00,-208.86L985.00,576.14M200.00,-201.19L985.00,583.81M200.00,-193.52L985.00,591.48M200.00,-185.85L985.00,599.15M200.00,-178.18L985.00,606.82M200.00,-170.51L985.00,614.49M200.00,-162.84L985.00,622.16M200.00,-155.17L985.00,629.83M200.00,-147.50L985.00,637.50M200.00,-139.83L985.00,645.17M200.00,-132.16L985.00,652.84M200.00,-124.49L985.00,660.51M200.00,-116.82L985.00,668.18M200.00,-109.15L985.00,675.85M200.00,-101.48L985.00,683.52M200.00,-93.81L985.00,691.19M200.00,-86.14L985.00,698.86M200.00,-78.47L985.00,706.53M200.00,-70.80L985.00,714.20M200.00,-63.13L985.00,721.87M200.00,-55.46L985.00,729.54M200.00,-47.79L985.00,737.21M200.00,-40.12L985.00,744.88M200.00,-32.45L985.00,752.55M200.00,-24.78L985.00,760.22M200.00,-17.11L985.00,767.89M200.00,-9.44L985.00,775.56M200.00,-1.77L985.00,783.23M200.00,5.90L985.00,790.90M200.00,13.57L985.00,798.57M200.00,21.24L985.00,806.24M200.00,28.91L985.00,813.91M200.00,36.58L985.00,821.58M200.00,44.25L985.00,829.25M200.00,51.92L985.00,836.92M200.00,59.59L985.00,844.59M200.00,67.26L985.00,852.26M200.00,74.93L985.00,859.93M200.00,82.60L985.00,867.60M200.00,90.27L985.00,875.27M200.00,97.94L985.00,882.94M200.00,105.61L985.00,890.61M200.00,113.28L985.00,898.28M200.00,120.95L985.00,905.95M200.00,128.62L985.00,913.62M200.00,136.29L985.00,921.29M200.00,143.96L985.00,928.96M200.00,151.63L985.00,936.63M200.00,159.30L985.00,944.30M200.00,166.97L985.00,951.97M200.00,174.64L985.00,959.64M200.00,182.31L985.00,967.31M200.00,189.98L985.00,974.98M200.00,197.65L985.00,982.65M200.00,205.32L985.00,990.32M200.00,212.99L985.00,997.99M200.00,220.66L985.00,1005.66M200.00,228.33L985.00,1013.33M200.00,236.00L985.00,1021.00M200.00,243.67L985.00,1028.67M200.00,251.34L985.00,1036.34M200.00,259.01L985.00,1044.01M200.00,266.68L985.00,1051.68M200.00,274.35L985.00,1059.35M200.00,282.02L985.00,1067.02M200.00,289.69L985.00,1074.69M200.00,297.36L985.00,1082.36M200.00,305.03L985.00,1090.03M200.00,312.70L985.00,1097.70M200.00,320.37L985.00,1105.37M200.00,328.04L985.00,1113.04M200.00,335.71L985.00,1120.71M200.00,343.38L985.00,1128.38M200.00,351.05L985.00,1136.05M200.00,358.72L985.00,1143.72M200.00,366.39L985.00,1151.39M200.00,374.06L985.00,1159.06M200.00,381.73L985.00,1166.73M200.00,389.40L985.00,1174.40M200.00,397.07L985.00,1182.07M200.00,404.74L985.00,1189.74M200.00,412.41L985.00,1197.41M200.00,420.08L985.00,1205.08M200.00,427.75L985.00,1212.75M200.00,435.42L985.00,1220.42M200.00,443.09L985.00,1228.09M200.00,450.76L985.00,1235.76M200.00,458.43L985.00,1243.43M200.00,466.10L985.00,1251.10M200.00,473.77L985.00,1258.77M200.00,481.44L985.00,1266.44M200.00,489.11L985.00,1274.11M200.00,496.78L985.00,1281.78M200.00,504.45L985.00,1289.45M200.00,512.12L985.00,1297.12M200.00,519.79L985.00,1304.79M200.00,527.46L985.00,1312.46"/>
</g>
<path d="M205.2,93.0 L205.2,96.3 L205.3,99.5 L205.3,102.8 L205.4,106.0 L205.4,109.2 L205.4,112.4 L205.5,115.6 L205.5,118.8 L205.5,122.0 L205.6,125.2 L205.6,128.3 L205.6,131.5 L205.6,134.6 L205.7,137.7 L205.7,140.8 L205.7,144.0 L205.8,147.1 L205.8,150.2 L205.8,153.3 L205.9,156.4 L205.9,159.5 L205.9,162.6 L206.0,165.7 L206.0,168.8 L206.1,171.9 L206.1,174.9 L206.2,178.0 L206.2,181.1 L206.3,184.2 L206.3,187.3 L206.4,190.4 L206.5,193.5 L206.6,196.6 L206.6,199.7 L206.7,202.9 L206.8,206.0 L206.9,209.1 L207.0,212.3 L207.1,215.4 L207.3,218.6 L207.4,221.7 L207.5,224.9 L207.7,228.1 L207.8,231.3 L208.0,234.5 L208.1,237.7 L208.3,241.0 L208.5,244.2 L208.7,247.5 L208.9,250.8 L209.1,254.1 L209.3,257.4 L209.5,260.7 L209.8,264.1 L210.0,267.4 L210.3,270.8 L210.5,274.2 L210.8,277.6 L211.1,281.1 L211.4,284.5 L211.7,288.0 L212.0,291.4 L212.4,294.8 L212.7,298.3 L213.0,301.7 L213.4,305.1 L213.8,308.5 L214.1,311.9 L214.5,315.2 L214.9,318.5 L215.3,321.8 L215.7,325.1 L216.1,328.3 L216.5,331.5 L216.9,334.6 L217.4,337.7 L217.8,340.7 L218.3,343.7 L218.7,346.6 L219.2,349.4 L219.6,352.2 L220.1,354.9 L220.5,357.5 L221.0,360.1 L221.5,362.6 L222.0,365.0 L222.5,367.3 L223.0,369.5 L223.5,371.7 L224.0,373.9 L224.5,375.9 L225.1,377.9 L225.6,379.9 L226.2,381.7 L226.8,383.6 L227.4,385.4 L228.0,387.1 L228.7,388.8 L229.3,390.5 L230.0,392.1 L230.7,393.8 L231.5,395.3 L232.2,396.9 L233.0,398.4 L233.8,399.9 L234.7,401.4 L235.5,402.8 L236.4,404.2 L237.3,405.6 L238.2,406.9 L239.1,408.2 L240.1,409.5 L241.0,410.7 L242.0,411.9 L243.0,413.0 L244.0,414.1 L245.0,415.1 L246.0,416.1 L247.0,417.0 L248.0,417.9 L249.1,418.8 L250.1,419.6 L251.2,420.3 L252.3,421.1 L253.4,421.8 L254.5,422.4 L255.7,423.0 L256.9,423.6 L258.0,424.2 L259.2,424.7 L260.5,425.2 L261.7,425.6 L262.9,426.0 L264.1,426.4 L265.4,426.8 L266.6,427.1 L267.9,427.4 L269.1,427.7 L270.3,427.9 L271.5,428.1 L272.7,428.3 L273.9,428.4 L275.1,428.5 L276.3,428.6 L277.4,428.7 L278.5,428.7 L279.6,428.7 L280.7,428.7 L281.7,428.6 L282.8,428.5 L283.8,428.4 L284.7,428.3 L285.7,428.1 L286.6,428.0 L287.6,427.8 L288.5,427.7 L289.4,427.5 L290.4,427.3 L291.3,427.2 L292.2,427.0 L293.2,426.9 L294.2,426.7 L295.2,426.6 L296.3,426.4 L297.5,426.2 L298.7,426.0 L300.0,425.7 L301.3,425.4 L302.8,425.1 L304.3,424.8 L305.9,424.4 L307.6,424.0 L309.3,423.6 L311.1,423.1 L313.0,422.6 L314.9,422.1 L316.8,421.6 L318.7,421.0 L320.7,420.4 L322.7,419.8 L324.8,419.2 L326.8,418.6 L328.9,417.9 L331.0,417.2 L333.0,416.5 L335.1,415.7 L337.1,415.0 L339.2,414.2 L341.3,413.4 L343.3,412.6 L345.4,411.8 L347.5,411.0 L349.5,410.2 L351.6,409.3 L353.6,408.4 L355.7,407.6 L357.8,406.7 L359.8,405.8 L361.9,404.9 L363.9,403.9 L366.0,403.0 L368.0,402.1 L370.1,401.1 L372.1,400.2 L374.2,399.2 L376.2,398.3 L378.2,397.3 L380.3,396.3 L382.3,395.3 L384.3,394.4 L386.4,393.4 L388.4,392.4 L390.4,391.4 L392.4,390.4 L394.4,389.4 L396.4,388.4 L398.4,387.3 L400.4,386.3 L402.4,385.3 L404.4,384.3 L406.4,383.3 L408.4,382.2 L410.3,381.2 L412.3,380.2 L414.2,379.1 L416.2,378.1 L418.2,377.0 L420.1,376.0 L422.1,375.0 L424.0,373.9 L426.0,372.9 L427.9,371.8 L429.9,370.8 L431.9,369.7 L433.9,368.7 L435.9,367.6 L438.0,366.6 L440.0,365.5 L442.1,364.5 L444.2,363.4 L446.3,362.4 L448.4,361.3 L450.6,360.2 L452.8,359.2 L455.0,358.1 L457.2,357.1 L459.5,356.0 L461.8,355.0 L464.0,353.9 L466.3,352.9 L468.7,351.9 L471.0,350.8 L473.3,349.8 L475.6,348.7 L478.0,347.7 L480.3,346.7 L482.6,345.7 L485.0,344.7 L487.3,343.7 L489.6,342.6 L491.9,341.6 L494.2,340.7 L496.5,339.7 L498.7,338.7 L501.0,337.7 L503.2,336.8 L505.4,335.8 L507.6,334.9 L509.7,333.9 L511.9,333.0 L514.0,332.1 L516.1,331.2 L518.1,330.3 L520.2,329.4 L522.2,328.6 L524.2,327.7 L526.2,326.9 L528.2,326.1 L530.2,325.3 L532.1,324.5 L534.1,323.7 L536.0,323.0 L537.8,322.3 L539.7,321.6 L541.6,320.9 L543.4,320.2 L545.2,319.6 L547.0,319.0 L548.8,318.4 L550.6,317.8 L552.4,317.2 L554.2,316.6 L556.0,316.1 L557.8,315.5 L559.6,315.0 L561.4,314.5 L563.1,313.9 L565.0,313.4 L566.8,312.9 L568.6,312.4 L570.4,311.9 L572.3,311.4 L574.1,310.8 L576.0,310.3 L577.9,309.8 L579.8,309.3 L581.7,308.8 L583.5,308.3 L585.4,307.8 L587.3,307.3 L589.1,306.9 L590.9,306.4 L592.7,305.9 L594.5,305.5 L596.3,305.1 L598.0,304.7 L599.7,304.3 L601.3,303.9 L602.9,303.5 L604.5,303.1 L606.1,302.8 L607.6,302.5 L609.1,302.2 L610.6,301.8 L612.0,301.5 L613.5,301.3 L614.9,301.0 L616.3,300.7 L617.7,300.4 L619.1,300.2 L620.5,299.9 L621.9,299.7 L623.3,299.4 L624.7,299.2 L626.1,298.9 L627.5,298.7 L628.9,298.4 L630.4,298.2 L631.9,298.0 L633.5,297.8 L635.1,297.6 L636.8,297.4 L638.5,297.2 L640.2,297.0 L642.1,296.8 L643.9,296.6 L645.9,296.5 L647.9,296.3 L650.0,296.2 L652.1,296.0 L654.2,295.9 L656.4,295.8 L658.7,295.7 L660.9,295.6 L663.2,295.5 L665.5,295.4 L667.9,295.4 L670.2,295.3 L672.6,295.3 L675.0,295.3 L677.4,295.2 L679.8,295.2 L682.2,295.3 L684.6,295.3 L687.0,295.3 L689.4,295.4 L691.8,295.5 L694.2,295.6 L696.5,295.7 L698.9,295.8 L701.3,296.0 L703.7,296.2 L706.0,296.3 L708.4,296.6 L710.7,296.8 L713.1,297.1 L715.5,297.3 L717.8,297.6 L720.2,298.0 L722.5,298.3 L724.9,298.7 L727.2,299.1 L729.6,299.5 L731.9,300.0 L734.3,300.5 L736.6,301.0 L739.0,301.5 L741.3,302.1 L743.7,302.7 L746.1,303.3 L748.4,304.0 L750.8,304.6 L753.1,305.3 L755.5,306.1 L757.9,306.8 L760.2,307.6 L762.6,308.4 L765.0,309.2 L767.4,310.0 L769.7,310.9 L772.1,311.7 L774.5,312.6 L776.9,313.6 L779.3,314.5 L781.6,315.5 L784.0,316.4 L786.4,317.4 L788.8,318.4 L791.2,319.4 L793.6,320.5 L796.0,321.6 L798.4,322.6 L800.8,323.7 L803.2,324.9 L805.6,326.0 L808.0,327.2 L810.4,328.3 L812.8,329.5 L815.2,330.8 L817.6,332.0 L819.9,333.3 L822.3,334.6 L824.7,335.9 L827.0,337.2 L829.4,338.6 L831.7,340.0 L834.1,341.4 L836.4,342.8 L838.7,344.2 L841.0,345.7 L843.3,347.2 L845.6,348.7 L847.9,350.3 L850.2,351.9 L852.5,353.5 L854.7,355.1 L857.0,356.8 L859.3,358.6 L861.5,360.3 L863.8,362.1 L866.1,363.9 L868.3,365.8 L870.6,367.8 L872.9,369.7 L875.2,371.7 L877.4,373.8 L879.7,375.9 L882.1,378.1 L884.4,380.3 L886.7,382.6 L889.0,384.9 L891.4,387.3 L893.8,389.7 L896.2,392.3 L898.6,394.8 L901.0,397.5 L903.4,400.2 L905.9,402.9 L908.4,405.8 L910.9,408.6 L913.4,411.5 L915.9,414.5 L918.4,417.5 L920.9,420.5 L923.4,423.6 L925.8,426.6 L928.3,429.7 L930.8,432.8 L933.2,435.8 L935.6,438.9 L938.0,441.9 L940.3,445.0 L942.6,448.0 L944.9,451.0 L947.1,453.9 L949.3,456.8 L951.4,459.6 L953.5,462.4 L955.5,465.1 L957.4,467.8 L959.3,470.4 L961.1,472.9 L962.9,475.3 L964.6,477.6 L966.2,479.8 L967.7,482.0 L969.1,484.0 L970.4,485.9 L971.7,487.7 L972.8,489.3 L973.8,490.8 L974.8,492.2 L975.6,493.5 L976.3,494.5 L976.9,495.5 L977.4,496.2 L977.8,496.8 L978.0,497.3 L978.1,497.5" stroke="#00f" stroke-width="2.1"/>
<path d="M203.6,93.0 L203.6,95.4 L203.7,97.7 L203.7,100.1 L203.7,102.4 L203.7,104.7 L203.7,107.0 L203.7,109.3 L203.8,111.6 L203.8,113.9 L203.8,116.2 L203.8,118.4 L203.8,120.7 L203.8,122.9 L203.8,125.2 L203.8,127.4 L203.8,129.6 L203.8,131.8 L203.8,134.0 L203.8,136.3 L203.8,138.5 L203.8,140.6 L203.8,142.8 L203.8,145.0 L203.8,147.2 L203.8,149.4 L203.8,151.5 L203.8,153.7 L203.8,155.9 L203.8,158.0 L203.8,160.2 L203.8,162.4 L203.8,164.5 L203.8,166.7 L203.8,168.8 L203.8,171.0 L203.8,173.1 L203.8,175.3 L203.8,177.4 L203.8,179.6 L203.8,181.7 L203.8,183.9 L203.8,186.0 L203.8,188.2 L203.8,190.4 L203.8,192.5 L203.9,194.7 L203.9,196.8 L203.9,199.0 L203.9,201.2 L203.9,203.4 L203.9,205.6 L204.0,207.7 L204.0,209.9 L204.0,212.1 L204.1,214.3 L204.1,216.6 L204.1,218.8 L204.2,221.0 L204.2,223.2 L204.2,225.5 L204.3,227.7 L204.3,230.0 L204.4,232.2 L204.4,234.5 L204.5,236.8 L204.6,239.1 L204.6,241.4 L204.7,243.7 L204.8,246.0 L204.8,248.3 L204.9,250.7 L205.0,253.0 L205.1,255.4 L205.2,257.8 L205.3,260.1 L205.4,262.5 L205.5,265.0 L205.6,267.4 L205.7,269.8 L205.8,272.3 L205.9,274.8 L206.1,277.2 L206.2,279.7 L206.3,282.2 L206.4,284.7 L206.6,287.2 L206.7,289.7 L206.9,292.2 L207.0,294.7 L207.2,297.2 L207.3,299.7 L207.5,302.2 L207.7,304.7 L207.9,307.1 L208.0,309.6 L208.2,312.0 L208.4,314.4 L208.6,316.8 L208.8,319.2 L209.0,321.6 L209.2,323.9 L209.4,326.2 L209.6,328.5 L209.8,330.8 L210.0,333.0 L210.2,335.2 L210.4,337.4 L210.6,339.5 L210.8,341.6 L211.1,343.6 L211.3,345.6 L211.5,347.6 L211.7,349.5 L212.0,351.4 L212.2,353.2 L212.5,355.0 L212.7,356.7 L213.0,358.4 L213.2,360.0 L213.4,361.5 L213.7,363.0 L214.0,364.5 L214.2,365.9 L214.5,367.2 L214.7,368.6 L215.0,369.8 L215.3,371.1 L215.5,372.3 L215.8,373.4 L216.1,374.5 L216.3,375.7 L216.6,376.7 L216.9,377.8 L217.1,378.8 L217.4,379.9 L217.7,380.9 L218.0,381.9 L218.2,382.9 L218.5,383.9 L218.8,384.8 L219.1,385.8 L219.4,386.8 L219.6,387.8 L219.9,388.8 L220.2,389.8 L220.5,390.8 L220.8,391.8 L221.1,392.8 L221.4,393.8 L221.7,394.9 L222.0,395.9 L222.3,396.9 L222.7,398.0 L223.0,399.1 L223.4,400.1 L223.7,401.2 L224.1,402.3 L224.5,403.4 L224.9,404.6 L225.3,405.7 L225.8,406.8 L226.2,408.0 L226.7,409.2 L227.2,410.4 L227.7,411.5 L228.2,412.7 L228.7,413.9 L229.2,415.1 L229.8,416.3 L230.3,417.5 L230.9,418.7 L231.5,419.8 L232.1,421.0 L232.7,422.1 L233.3,423.2 L233.9,424.3 L234.5,425.4 L235.2,426.5 L235.8,427.5 L236.4,428.5 L237.1,429.5 L237.8,430.5 L238.4,431.4 L239.1,432.3 L239.8,433.2 L240.5,434.0 L241.2,434.8 L241.9,435.6 L242.6,436.3 L243.3,437.1 L244.0,437.8 L244.7,438.4 L245.4,439.1 L246.1,439.7 L246.9,440.4 L247.6,441.0 L248.3,441.5 L249.1,442.1 L249.8,442.7 L250.6,443.2 L251.3,443.7 L252.1,444.2 L252.8,444.7 L253.6,445.2 L254.3,445.7 L255.1,446.1 L255.9,446.6 L256.7,447.0 L257.5,447.4 L258.3,447.8 L259.1,448.2 L259.9,448.6 L260.7,449.0 L261.6,449.4 L262.4,449.7 L263.3,450.0 L264.1,450.4 L265.0,450.7 L265.9,451.0 L266.8,451.3 L267.8,451.5 L268.7,451.8 L269.6,452.0 L270.5,452.2 L271.5,452.4 L272.4,452.6 L273.3,452.7 L274.3,452.9 L275.2,453.0 L276.1,453.0 L277.0,453.1 L277.9,453.1 L278.8,453.1 L279.7,453.1 L280.6,453.0 L281.5,452.9 L282.3,452.8 L283.2,452.7 L284.0,452.6 L284.8,452.5 L285.6,452.3 L286.4,452.2 L287.2,452.0 L288.0,451.9 L288.8,451.8 L289.5,451.6 L290.2,451.5 L290.9,451.4 L291.6,451.3 L292.3,451.2 L293.0,451.1 L293.7,451.0 L294.4,450.9 L295.1,450.8 L295.8,450.7 L296.6,450.6 L297.4,450.5 L298.2,450.4 L299.0,450.2 L299.9,450.1 L300.9,449.9 L301.9,449.7 L302.9,449.5 L304.0,449.3 L305.1,449.0 L306.2,448.8 L307.4,448.5 L308.6,448.2 L309.8,447.9 L311.1,447.6 L312.4,447.3 L313.7,446.9 L315.1,446.6 L316.5,446.2 L317.8,445.9 L319.2,445.5 L320.7,445.1 L322.1,444.7 L323.5,444.2 L325.0,443.8 L326.4,443.4 L327.9,442.9 L329.4,442.5 L330.8,442.0 L332.3,441.5 L333.8,441.1 L335.2,440.6 L336.7,440.1 L338.2,439.6 L339.6,439.1 L341.1,438.6 L342.5,438.1 L344.0,437.5 L345.5,437.0 L346.9,436.5 L348.4,435.9 L349.9,435.4 L351.3,434.8 L352.8,434.3 L354.2,433.7 L355.7,433.1 L357.1,432.6 L358.6,432.0 L360.1,431.4 L361.5,430.8 L363.0,430.2 L364.4,429.6 L365.9,429.0 L367.3,428.4 L368.8,427.8 L370.3,427.2 L371.7,426.6 L373.2,426.0 L374.6,425.4 L376.1,424.8 L377.5,424.2 L379.0,423.5 L380.4,422.9 L381.9,422.3 L383.3,421.7 L384.7,421.0 L386.2,420.4 L387.6,419.8 L389.1,419.1 L390.5,418.5 L391.9,417.9 L393.4,417.2 L394.8,416.6 L396.2,415.9 L397.7,415.3 L399.1,414.7 L400.5,414.0 L401.9,413.4 L403.4,412.7 L404.8,412.1 L406.2,411.4 L407.6,410.8 L409.0,410.2 L410.4,409.5 L411.8,408.9 L413.2,408.2 L414.6,407.6 L416.0,406.9 L417.4,406.3 L418.8,405.7 L420.2,405.0 L421.6,404.4 L423.0,403.7 L424.4,403.1 L425.8,402.4 L427.2,401.8 L428.6,401.1 L430.0,400.5 L431.4,399.8 L432.9,399.1 L434.3,398.5 L435.7,397.8 L437.2,397.1 L438.6,396.5 L440.1,395.8 L441.6,395.1 L443.0,394.4 L444.5,393.7 L446.0,393.0 L447.5,392.3 L449.1,391.6 L450.6,390.9 L452.1,390.2 L453.7,389.5 L455.3,388.8 L456.9,388.1 L458.5,387.4 L460.1,386.6 L461.7,385.9 L463.3,385.2 L464.9,384.4 L466.5,383.7 L468.2,383.0 L469.8,382.2 L471.4,381.5 L473.1,380.8 L474.7,380.1 L476.4,379.3 L478.0,378.6 L479.7,377.9 L481.3,377.2 L483.0,376.5 L484.6,375.8 L486.2,375.0 L487.9,374.3 L489.5,373.7 L491.1,373.0 L492.8,372.3 L494.4,371.6 L496.0,371.0 L497.6,370.3 L499.2,369.6 L500.7,369.0 L502.3,368.4 L503.9,367.8 L505.4,367.1 L507.0,366.5 L508.5,365.9 L510.0,365.4 L511.5,364.8 L513.0,364.2 L514.5,363.6 L516.0,363.1 L517.5,362.5 L519.0,362.0 L520.4,361.5 L521.9,360.9 L523.3,360.4 L524.7,359.9 L526.2,359.4 L527.6,358.9 L529.0,358.4 L530.4,357.9 L531.8,357.4 L533.1,357.0 L534.5,356.5 L535.9,356.0 L537.2,355.6 L538.6,355.1 L539.9,354.7 L541.2,354.3 L542.6,353.8 L543.9,353.4 L545.2,353.0 L546.5,352.6 L547.8,352.1 L549.1,351.7 L550.4,351.3 L551.6,350.9 L552.9,350.5 L554.2,350.1 L555.4,349.7 L556.7,349.3 L558.0,348.9 L559.2,348.6 L560.5,348.2 L561.7,347.8 L563.0,347.4 L564.2,347.0 L565.5,346.7 L566.7,346.3 L568.0,345.9 L569.2,345.6 L570.5,345.2 L571.7,344.8 L573.0,344.5 L574.2,344.1 L575.5,343.7 L576.7,343.4 L578.0,343.0 L579.2,342.6 L580.5,342.3 L581.8,341.9 L583.0,341.6 L584.3,341.2 L585.6,340.9 L586.9,340.5 L588.2,340.2 L589.5,339.8 L590.8,339.5 L592.1,339.1 L593.4,338.8 L594.7,338.5 L596.0,338.1 L597.3,337.8 L598.7,337.5 L600.0,337.2 L601.4,336.8 L602.7,336.5 L604.1,336.2 L605.5,335.9 L606.9,335.6 L608.3,335.3 L609.7,335.0 L611.1,334.7 L612.5,334.4 L614.0,334.1 L615.4,333.8 L616.9,333.5 L618.4,333.2 L619.8,333.0 L621.3,332.7 L622.8,332.4 L624.4,332.2 L625.9,331.9 L627.5,331.6 L629.0,331.4 L630.6,331.1 L632.2,330.9 L633.8,330.7 L635.4,330.4 L637.1,330.2 L638.7,330.0 L640.4,329.8 L683.6,327.5 L733.0,333.2 L784.7,348.9 L840.4,375.5 L902.3,424.8 L969.8,503.7 L978.1,518.2" stroke="#00f" stroke-width="2.1"/>
<path d="M204.3,93.0 L204.3,95.2 L204.3,97.5 L204.4,99.7 L204.4,101.9 L204.4,104.2 L204.4,106.4 L204.4,108.6 L204.4,110.8 L204.5,113.0 L204.5,115.1 L204.5,117.3 L204.5,119.5 L204.5,121.7 L204.5,123.8 L204.5,126.0 L204.6,128.1 L204.6,130.3 L204.6,132.4 L204.6,134.6 L204.6,136.7 L204.6,138.8 L204.6,141.0 L204.7,143.1 L204.7,145.2 L204.7,147.3 L204.7,149.5 L204.7,151.6 L204.7,153.7 L204.7,155.8 L204.8,157.9 L204.8,160.0 L204.8,162.1 L204.8,164.2 L204.8,166.4 L204.9,168.5 L204.9,170.6 L204.9,172.7 L204.9,174.8 L205.0,176.9 L205.0,179.0 L205.0,181.1 L205.0,183.2 L205.1,185.3 L205.1,187.4 L205.1,189.5 L205.2,191.7 L205.2,193.8 L205.3,195.9 L205.3,198.0 L205.3,200.1 L205.4,202.3 L205.4,204.4 L205.5,206.5 L205.5,208.7 L205.6,210.8 L205.6,212.9 L205.7,215.1 L205.8,217.3 L205.8,219.4 L205.9,221.6 L206.0,223.7 L206.0,225.9 L206.1,228.1 L206.2,230.3 L206.2,232.5 L206.3,234.7 L206.4,236.9 L206.5,239.1 L206.6,241.3 L206.7,243.5 L206.8,245.7 L206.9,248.0 L207.0,250.2 L207.1,252.5 L207.2,254.7 L207.3,257.0 L207.4,259.3 L207.5,261.6 L207.7,263.9 L207.8,266.2 L207.9,268.5 L208.0,270.8 L208.2,273.1 L208.3,275.5 L208.5,277.8 L208.6,280.2 L208.8,282.5 L208.9,284.9 L209.1,287.2 L209.2,289.6 L209.4,292.0 L209.6,294.3 L209.8,296.7 L209.9,299.0 L210.1,301.4 L210.3,303.7 L210.5,306.1 L210.7,308.4 L210.9,310.7 L211.1,313.0 L211.3,315.3 L211.5,317.6 L211.7,319.8 L211.9,322.1 L212.1,324.3 L212.3,326.5 L212.5,328.7 L212.7,330.9 L213.0,333.0 L213.2,335.2 L213.4,337.3 L213.7,339.4 L213.9,341.4 L214.1,343.4 L214.4,345.4 L214.6,347.4 L214.9,349.3 L215.1,351.2 L215.4,353.1 L215.6,354.9 L215.9,356.7 L216.2,358.4 L216.4,360.1 L216.7,361.8 L217.0,363.4 L217.2,365.0 L217.5,366.6 L217.8,368.1 L218.1,369.6 L218.4,371.1 L218.7,372.5 L219.0,373.9 L219.3,375.3 L219.6,376.7 L219.9,378.0 L220.2,379.3 L220.6,380.6 L220.9,381.9 L221.2,383.2 L221.6,384.4 L222.0,385.6 L222.3,386.8 L222.7,388.1 L223.1,389.2 L223.5,390.4 L223.9,391.6 L224.3,392.8 L224.7,394.0 L225.2,395.1 L225.6,396.3 L226.1,397.5 L226.6,398.6 L227.0,399.8 L227.5,401.0 L228.0,402.1 L228.5,403.3 L229.1,404.4 L229.6,405.5 L230.1,406.6 L230.7,407.7 L231.2,408.8 L231.8,409.9 L232.4,410.9 L233.0,412.0 L233.6,413.0 L234.2,414.0 L234.8,414.9 L235.4,415.9 L236.0,416.8 L236.7,417.7 L237.3,418.6 L238.0,419.4 L238.6,420.3 L239.3,421.0 L240.0,421.8 L240.6,422.5 L241.3,423.3 L242.0,423.9 L242.7,424.6 L243.4,425.2 L244.1,425.9 L244.8,426.5 L245.6,427.0 L246.3,427.6 L247.0,428.2 L247.7,428.7 L248.5,429.2 L249.2,429.7 L250.0,430.2 L250.7,430.7 L251.5,431.1 L252.2,431.6 L253.0,432.0 L253.8,432.4 L254.5,432.9 L255.3,433.3 L256.1,433.7 L256.8,434.0 L257.6,434.4 L258.4,434.8 L259.2,435.1 L260.0,435.5 L260.7,435.8 L261.5,436.2 L262.3,436.5 L263.1,436.8 L263.9,437.1 L264.7,437.4 L265.5,437.7 L266.3,437.9 L267.1,438.2 L267.9,438.4 L268.7,438.7 L269.5,438.9 L270.3,439.1 L271.1,439.3 L271.9,439.4 L272.7,439.6 L273.5,439.7 L274.4,439.8 L275.2,439.9 L276.0,439.9 L276.8,440.0 L277.7,440.0 L278.5,440.0 L279.3,440.0 L280.2,439.9 L281.0,439.9 L281.8,439.8 L282.6,439.7 L283.5,439.7 L284.3,439.6 L285.1,439.5 L285.9,439.4 L286.7,439.3 L287.4,439.2 L288.2,439.1 L289.0,439.0 L289.7,439.0 L290.4,438.9 L291.2,438.8 L291.9,438.7 L292.7,438.6 L293.4,438.5 L294.2,438.4 L295.0,438.3 L295.8,438.2 L296.6,438.1 L297.4,438.0 L298.3,437.8 L299.2,437.6 L300.1,437.5 L301.1,437.3 L302.1,437.1 L303.2,436.8 L304.2,436.6 L305.3,436.3 L306.4,436.1" stroke="#00f" stroke-width="1.5"/>
<path d="M306.4,436.1 L307.6,435.8 L308.8,435.5 L310.0,435.2 L311.2,434.8 L312.4,434.5 L313.7,434.2 L315.0,433.8 L316.3,433.4 L317.6,433.0 L318.9,432.6 L320.3,432.2 L321.6,431.8 L323.0,431.4 L324.4,430.9 L325.8,430.5 L327.2,430.0 L328.6,429.6 L330.0,429.1 L331.4,428.6 L332.8,428.1 L334.2,427.6 L335.6,427.1 L337.0,426.6 L338.4,426.1 L339.8,425.6 L341.2,425.0 L342.6,424.5 L344.0,424.0 L345.4,423.4 L346.8,422.9 L348.2,422.3 L349.6,421.7 L351.0,421.2 L352.5,420.6 L353.9,420.0 L355.3,419.4 L356.7,418.8 L358.1,418.3 L359.5,417.7 L360.9,417.1 L362.3,416.5 L363.7,415.9 L365.2,415.3 L366.6,414.7 L368.0,414.1 L369.4,413.5 L370.8,412.8 L372.2,412.2 L373.6,411.6 L375.0,411.0 L376.4,410.4 L377.8,409.8 L379.2,409.2 L380.6,408.5 L382.0,407.9 L383.4,407.3 L384.8,406.7 L386.2,406.1 L387.6,405.4 L389.0,404.8 L390.4,404.2 L391.8,403.6 L393.2,402.9 L394.5,402.3 L395.9,401.7 L397.3,401.1 L398.7,400.4 L400.1,399.8 L401.4,399.2 L402.8,398.5 L404.2,397.9 L405.5,397.3 L406.9,396.6 L408.3,396.0 L409.6,395.4 L411.0,394.7 L412.3,394.1 L413.7,393.4 L415.0,392.8 L416.4,392.2 L417.7,391.5 L419.1,390.9 L420.4,390.2 L421.7,389.6 L423.1,388.9 L424.4,388.3 L425.8,387.6 L427.2,387.0 L428.5,386.3 L429.9,385.6 L431.3,385.0 L432.6,384.3 L434.0,383.6 L435.4,382.9 L436.8,382.3 L438.2,381.6 L439.6,380.9 L441.0,380.2 L442.4,379.5 L443.8,378.8 L445.3,378.1 L446.7,377.4 L448.2,376.6 L449.7,375.9 L451.2,375.2 L452.6,374.5 L454.2,373.7 L455.7,373.0 L457.2,372.2 L458.7,371.5 L460.3,370.7 L461.8,370.0 L463.4,369.2 L464.9,368.5 L466.5,367.7 L468.1,367.0 L469.6,366.2 L471.2,365.5 L472.8,364.7 L474.4,364.0 L476.0,363.2 L477.6,362.5 L479.1,361.7 L480.7,361.0 L482.3,360.3 L483.9,359.5 L485.5,358.8 L487.1,358.1 L488.6,357.4 L490.2,356.7 L491.8,356.0 L493.3,355.3 L494.9,354.6 L496.4,353.9 L498.0,353.2 L499.5,352.6 L501.0,351.9 L502.5,351.3 L504.0,350.7 L505.5,350.0 L507.0,349.4 L508.5,348.8 L510.0,348.2 L511.4,347.7 L512.9,347.1 L514.3,346.5 L515.8,346.0 L517.2,345.4 L518.6,344.9 L520.0,344.3 L521.4,343.8 L522.8,343.3 L524.2,342.8 L525.6,342.3 L527.0,341.8 L528.3,341.3 L529.7,340.9 L531.0,340.4 L532.4,339.9 L533.7,339.5 L535.0,339.0 L536.3,338.6 L537.7,338.2 L539.0,337.7 L540.2,337.3 L541.5,336.9 L542.8,336.5 L544.1,336.1 L545.4,335.7 L546.6,335.3 L547.9,334.9 L549.1,334.5 L550.4,334.1 L551.6,333.7 L552.8,333.4 L554.1,333.0 L555.3,332.6 L556.5,332.3 L557.8,331.9 L559.0,331.6 L560.2,331.2 L561.4,330.9 L562.6,330.5 L563.8,330.2 L565.1,329.9 L566.3,329.5 L567.5,329.2 L568.7,328.9 L569.9,328.5 L571.1,328.2 L572.3,327.9 L573.5,327.6 L574.8,327.2 L576.0,326.9 L577.2,326.6 L578.4,326.3 L579.6,326.0 L580.9,325.6 L582.1,325.3 L583.3,325.0 L584.6,324.7 L585.8,324.4 L587.1,324.1 L588.3,323.8 L589.6,323.5 L590.8,323.2 L592.1,322.9 L593.4,322.6 L594.7,322.3 L595.9,322.0 L597.2,321.7 L598.5,321.5 L599.8,321.2 L601.1,320.9 L602.5,320.6 L603.8,320.3 L605.1,320.0 L606.5,319.8 L607.8,319.5 L609.2,319.2 L610.6,319.0 L611.9,318.7 L613.3,318.4 L614.7,318.2 L616.2,317.9 L617.6,317.7 L619.0,317.4 L620.5,317.2 L621.9,316.9 L623.4,316.7 L624.9,316.4 L626.4,316.2 L627.9,315.9 L629.4,315.7 L630.9,315.5 L632.5,315.2 L634.0,315.0 L635.6,314.8 L637.2,314.6 L638.8,314.3 L640.4,314.1 L683.6,312.0 L733.0,317.4 L784.7,332.4 L840.4,361.2 L902.3,411.8 L969.8,497.0 L978.1,508.5" stroke="#00f" stroke-width="1.5" stroke-dasharray="8.3,5.9"/>
<path d="M205.7,93.0 L205.8,96.8 L205.8,100.6 L205.8,104.4 L205.9,108.2 L205.9,111.9 L206.0,115.6 L206.0,119.2 L206.0,122.9 L206.0,126.5 L206.1,130.1 L206.1,133.7 L206.1,137.3 L206.1,140.8 L206.1,144.3 L206.2,147.9 L206.2,151.4 L206.2,154.9 L206.2,158.4 L206.3,161.9 L206.3,165.4 L206.3,168.8 L206.4,172.3 L206.4,175.8 L206.5,179.3 L206.5,182.8 L206.6,186.2 L206.7,189.7 L206.8,193.2 L206.9,196.7 L206.9,200.2" stroke="#0f0" stroke-width="1.8" stroke-dasharray="11,2.2"/>
<path d="M206.9,200.2 L207.1,203.8 L207.2,207.3 L207.3,210.8 L207.4,214.4 L207.6,218.0 L207.7,221.6 L207.9,225.2 L208.1,228.8 L208.3,232.5 L208.5,236.2 L208.7,239.9 L208.9,243.6 L209.2,247.4 L209.5,251.2 L209.7,255.0 L210.1,258.8 L210.4,262.7 L210.7,266.7 L211.1,270.6 L211.4,274.6 L211.8,278.6 L212.2,282.7 L212.6,286.7 L213.1,290.8 L213.5,294.9 L214.0,298.9 L214.5,303.0 L215.0,307.0 L215.4,310.9 L216.0,314.9 L216.5,318.8 L217.0,322.6 L217.5,326.3 L218.1,330.0 L218.6,333.6 L219.1,337.1 L219.7,340.5 L220.2,343.8 L220.8,347.0 L221.3,350.1 L221.9,353.1 L222.4,355.9 L223.0,358.5 L223.5,361.0 L224.1,363.4 L224.6,365.6 L225.2,367.7 L225.7,369.7 L226.3,371.6 L226.8,373.4 L227.4,375.2 L228.0,376.9 L228.7,378.6 L229.3,380.3 L230.0,381.9 L230.7,383.6 L231.4,385.3 L232.2,387.1 L233.0,388.8 L233.9,390.6 L234.7,392.5 L235.6,394.3 L236.6,396.1 L237.5,398.0 L238.5,399.8 L239.5,401.6 L240.5,403.4 L241.5,405.1 L242.5,406.8 L243.6,408.4 L244.6,410.0 L245.7,411.5 L246.7,413.0 L247.8,414.4 L248.9,415.7 L250.0,416.9 L251.2,418.1 L252.3,419.3 L253.5,420.4 L254.6,421.4 L255.8,422.3 L257.0,423.2 L258.3,424.0 L259.5,424.8 L260.8,425.5 L262.1,426.2 L263.5,426.8 L264.8,427.4 L266.3,427.9 L267.7,428.4 L269.2,428.9 L270.8,429.3 L272.4,429.7 L274.0,430.1 L275.7,430.4 L277.4,430.8 L279.0,431.1 L280.7,431.3 L282.3,431.6 L283.9,431.8 L285.5,431.9 L287.0,432.1 L288.4,432.1 L289.7,432.2 L291.0,432.2 L292.3,432.2 L293.6,432.2 L294.8,432.1 L296.1,432.0 L297.5,431.8 L298.9,431.7 L300.5,431.5 L302.1,431.2 L303.8,431.0 L305.7,430.7" stroke="#0f0" stroke-width="1.8"/>
<path d="M305.7,430.7 L307.6,430.3 L309.6,430.0 L311.6,429.6 L313.8,429.2 L316.0,428.7 L318.2,428.2 L320.5,427.7 L322.8,427.2 L325.1,426.6 L327.5,426.0 L329.9,425.4 L332.2,424.8 L334.6,424.1 L337.0,423.4 L339.4,422.7 L341.7,421.9 L344.1,421.1 L346.5,420.3 L348.9,419.5 L351.3,418.7 L353.6,417.8 L356.0,416.9 L358.4,416.0 L360.8,415.1 L363.1,414.2 L365.5,413.2 L367.9,412.3 L370.2,411.3 L372.6,410.3 L374.9,409.3 L377.3,408.2 L379.6,407.2 L381.9,406.2 L384.3,405.1 L386.6,404.0 L388.9,403.0 L391.2,401.9 L393.6,400.8 L395.9,399.7 L398.1,398.6 L400.4,397.4 L402.7,396.3 L405.0,395.2 L407.2,394.0 L409.5,392.9 L411.7,391.7 L414.0,390.6 L416.2,389.4 L418.4,388.2 L420.7,387.0 L422.9,385.8 L425.1,384.7 L427.4,383.5 L429.6,382.3 L431.9,381.0 L434.2,379.8 L436.5,378.6 L438.8,377.4 L441.2,376.1 L443.5,374.9 L445.9,373.7 L448.3,372.4 L450.8,371.1 L453.3,369.9 L455.8,368.6 L458.4,367.3 L460.9,366.1 L463.5,364.8 L466.1,363.5 L468.7,362.2 L471.4,361.0 L474.0,359.7 L476.7,358.4 L479.3,357.2 L482.0,355.9 L484.6,354.7 L487.2,353.4 L489.9,352.2 L492.5,350.9 L495.1,349.7 L497.6,348.5 L500.2,347.3 L502.7,346.2 L505.2,345.0 L507.7,343.8 L510.1,342.7 L512.5,341.6 L514.9,340.5 L517.3,339.4 L519.6,338.3 L521.9,337.3 L524.2,336.3 L526.5,335.3 L528.8,334.3 L531.0,333.4 L533.2,332.5 L535.4,331.6 L537.5,330.7 L539.7,329.9 L541.8,329.1 L543.9,328.3 L545.9,327.6 L548.0,326.9 L550.0,326.2 L552.1,325.5 L554.1,324.8 L556.1,324.1 L558.2,323.5 L560.2,322.8 L562.2,322.1 L564.3,321.5 L566.3,320.8 L568.4,320.1 L570.5,319.4 L572.6,318.7 L574.7,318.0 L576.8,317.2 L578.9,316.5 L581.0,315.7 L583.2,315.0 L585.3,314.2 L587.3,313.5 L589.4,312.7 L591.5,312.0 L593.5,311.2 L595.5,310.5 L597.4,309.8 L599.3,309.1 L601.2,308.5 L603.0,307.8 L604.8,307.2 L606.5,306.6 L608.2,306.0 L609.9,305.5 L611.5,304.9 L613.2,304.4 L614.8,303.8 L616.3,303.3 L617.9,302.8 L619.5,302.3 L621.0,301.8 L622.6,301.3 L624.2,300.8 L625.8,300.4 L627.4,299.9 L629.0,299.4 L630.7,299.0 L632.4,298.5 L634.2,298.1 L636.0,297.7 L637.9,297.2 L639.9,296.8 L641.9,296.4 L644.1,296.1 L646.2,295.7 L648.5,295.3 L650.8,295.0 L653.2,294.6 L655.7,294.3 L658.2,294.0 L660.7,293.7 L663.3,293.4 L666.0,293.2 L668.7,292.9 L671.4,292.7 L674.1,292.5 L676.9,292.3 L679.7,292.1 L682.6,292.0 L685.4,291.9 L688.3,291.8 L691.1,291.7 L694.0,291.6 L696.9,291.6 L699.7,291.6 L702.6,291.6 L705.4,291.6 L708.2,291.7 L711.0,291.8 L713.7,291.9 L716.4,292.0 L719.1,292.2 L721.7,292.4 L724.3,292.6 L726.8,292.9 L729.2,293.2 L731.6,293.5 L733.9,293.8 L736.1,294.2 L738.3,294.6 L740.4,295.1 L742.4,295.6 L744.4,296.0 L746.3,296.5 L748.3,297.0 L750.2,297.5 L752.0,298.0 L753.9,298.5 L755.7,299.0 L757.6,299.5 L759.5,300.0 L761.4,300.4 L763.2,300.9 L765.2,301.3 L767.1,301.7 L769.0,302.1 L770.9,302.5 L772.8,303.0 L774.8,303.4 L776.7,303.9 L778.6,304.4 L780.5,304.9 L782.4,305.5 L784.3,306.1 L786.1,306.7 L787.9,307.4 L789.8,308.2 L791.6,308.9 L793.4,309.8 L795.2,310.6 L797.0,311.5 L798.8,312.4 L800.6,313.3 L802.4,314.3 L804.2,315.2 L806.1,316.2 L808.0,317.1 L809.9,318.1 L811.9,319.1 L813.9,320.1 L815.9,321.0 L817.9,322.0 L819.9,322.9 L821.8,323.8 L823.8,324.7 L825.7,325.6 L827.5,326.5 L829.3,327.3 L831.1,328.1 L832.7,328.9 L834.2,329.7 L835.6,330.4 L836.9,331.0 L838.2,331.7 L839.3,332.3 L840.4,333.0 L841.4,333.7 L842.5,334.3 L843.5,335.1 L844.6,335.8 L845.7,336.7 L846.9,337.6 L848.1,338.5 L849.4,339.6 L850.7,340.6 L852.1,341.7 L853.4,342.9 L854.8,344.0 L856.2,345.2 L857.5,346.4 L858.9,347.6 L860.2,348.7 L861.5,349.9 L862.7,351.0 L864.0,352.1 L865.1,353.2 L866.3,354.3 L867.5,355.3 L868.6,356.4 L869.8,357.4 L870.9,358.4 L872.1,359.4 L873.2,360.4 L874.4,361.4 L875.5,362.3 L876.7,363.3 L877.9,364.3 L879.1,365.2 L880.3,366.2 L881.6,367.1 L882.8,368.1 L884.0,369.1 L885.3,370.1 L886.5,371.1 L887.8,372.1 L889.1,373.2 L890.3,374.3 L891.6,375.4 L892.9,376.6 L894.3,377.8 L895.6,379.1 L897.0,380.4 L898.3,381.8 L899.7,383.3 L901.2,384.8 L902.6,386.5 L904.1,388.2 L905.6,390.0 L907.1,391.9 L908.7,393.8 L910.3,395.9 L911.9,398.0 L913.5,400.2 L915.2,402.4 L916.8,404.7 L918.5,407.1 L920.3,409.5 L922.0,412.0 L923.8,414.5 L925.6,417.0 L927.4,419.6 L929.2,422.3 L931.1,424.9 L933.0,427.6 L934.9,430.3 L936.8,433.1 L938.7,435.8 L940.7,438.6 L942.6,441.4 L944.6,444.1 L946.5,446.9 L948.4,449.6 L950.3,452.3 L952.2,454.9 L954.1,457.5 L955.9,460.0 L957.6,462.5 L959.4,464.9 L961.0,467.3 L962.6,469.5 L964.2,471.7 L965.6,473.7 L967.0,475.7 L968.4,477.5 L969.6,479.2 L970.7,480.8 L971.8,482.2 L972.7,483.6 L973.7,484.8 L974.5,486.0 L975.3,487.1 L976.0,488.1 L976.8,489.1 L977.5,490.1 L978.1,491.0 L978.8,492.0 L979.5,492.9 L980.2,493.9 L980.9,494.9 L981.6,496.0 L982.4,497.1 L983.2,498.3 L984.1,499.6 L985.0,501.0" stroke="#0f0" stroke-width="1.8" stroke-dasharray="9.6,2.4,3,2.8"/>
</g>
<g fill="none">
<path d="M239,137.2H308.8" stroke="#f00" stroke-width="1.7"/>
<path d="M239.1,174.9H304" stroke="#00f" stroke-width="1.8" stroke-dasharray="8.3,5.9"/>
<path d="M239.1,212.8H307.8" stroke="#0f0" stroke-width="1.8" stroke-dasharray="9.6,2.4,3,2.8"/>
<path d="M239.1,250.3H308.6" stroke="#f0f" stroke-width="1.7" stroke-dasharray="4,2.52"/>
</g>
<g font-family="Liberation Serif, serif" font-size="27.5" fill="#000">
<text x="202.8" y="697.3" text-anchor="middle">0.0</text>
<text x="287.0" y="697.3" text-anchor="middle">0.1</text>
<text x="371.1" y="697.3" text-anchor="middle">0.2</text>
<text x="455.3" y="697.3" text-anchor="middle">0.3</text>
<text x="539.5" y="697.3" text-anchor="middle">0.4</text>
<text x="623.7" y="697.3" text-anchor="middle">0.5</text>
<text x="707.8" y="697.3" text-anchor="middle">0.6</text>
<text x="792.0" y="697.3" text-anchor="middle">0.7</text>
<text x="876.2" y="697.3" text-anchor="middle">0.8</text>
<text x="960.3" y="697.3" text-anchor="middle">0.9</text>
<text x="189.5" y="653.5" text-anchor="end">0.0</text>
<text x="189.5" y="469.7" text-anchor="end">0.1</text>
<text x="189.5" y="285.8" text-anchor="end">0.2</text>
<text x="189.5" y="102.0" text-anchor="end">0.3</text>
</g>
<g font-family="Liberation Serif, serif" font-size="30.3" fill="#000">
<text x="315.3" y="146.6">GKG18 (Fit A)</text>
<text x="315.3" y="184.3">GKG18 (Fit B)</text>
<text x="315.3" y="222.1">H1 2006 Fit B</text>
<text x="315.3" y="259.9">ZEUS 2010 Fit SJ</text>
</g>
<text x="313" y="306.5" font-family="Liberation Serif, serif" font-size="36" fill="#000">Q<tspan font-size="21.5" dy="-18.5">2</tspan><tspan dy="18.5">= 20 GeV</tspan><tspan font-size="21.5" dy="-18.5" dx="1.5">2</tspan></text>
<g font-family="Liberation Sans, sans-serif" fill="#000" stroke="#fff" stroke-width="0.35">
<text transform="translate(590.6,749.6) scale(1.13,0.945)" text-anchor="middle" font-size="35">z</text>
<text transform="translate(122.8,434.6) rotate(-90)" font-size="34.6">zΣ(z,Q<tspan font-size="21.5" dy="-18.3">2</tspan><tspan dy="18.3">)</tspan></text>
</g>
</svg>
</body></html>
